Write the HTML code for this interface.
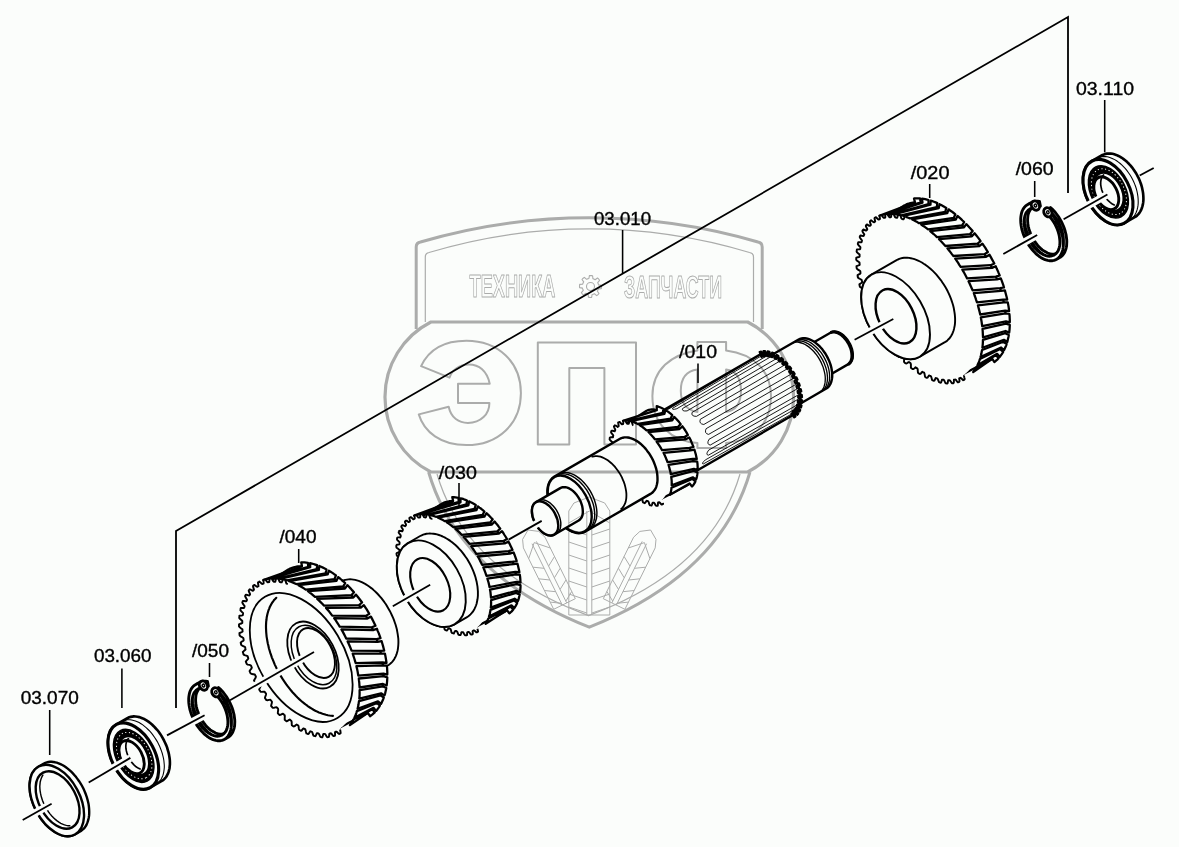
<!DOCTYPE html><html><head><meta charset="utf-8"><style>html,body{margin:0;padding:0;background:#fbfdfb;overflow:hidden;width:1179px;height:847px;}svg{display:block;}text{font-family:"Liberation Sans",sans-serif;}</style></head><body><svg width="1179" height="847" viewBox="0 0 1179 847">
<rect width="1179" height="847" fill="#fbfdfb"/>
<line x1="1139.7" y1="175.5" x2="1153.7" y2="168.0" stroke="#fbfdfb" stroke-width="7.5"/>
<line x1="1139.7" y1="175.5" x2="1153.7" y2="168.0" stroke="#000" stroke-width="1.80" stroke-linecap="butt"/>
<polygon points="1134.3,217.4 1135.7,216.6 1137.0,215.6 1138.2,214.4 1139.3,213.1 1140.2,211.6 1141.1,210.0 1141.8,208.3 1142.4,206.4 1142.9,204.4 1143.2,202.4 1143.4,200.2 1143.4,197.9 1143.3,195.6 1143.1,193.3 1142.7,190.9 1142.2,188.4 1141.6,186.0 1140.8,183.5 1139.9,181.1 1138.9,178.7 1137.7,176.3 1136.5,174.0 1135.1,171.8 1133.7,169.7 1132.2,167.6 1130.6,165.6 1128.9,163.8 1127.2,162.1 1125.4,160.5 1123.6,159.1 1121.8,157.8 1119.9,156.6 1118.0,155.7 1116.2,154.9 1114.3,154.3 1112.5,153.8 1110.7,153.6 1108.9,153.5 1107.2,153.6 1105.6,153.9 1104.0,154.4 1102.5,155.0 1092.1,161.0 1090.7,161.8 1089.4,162.8 1088.2,164.0 1087.1,165.3 1086.1,166.8 1085.3,168.4 1084.6,170.1 1084.0,172.0 1083.5,174.0 1083.2,176.0 1083.0,178.2 1083.0,180.5 1083.1,182.8 1083.3,185.1 1083.7,187.5 1084.2,190.0 1084.8,192.4 1085.6,194.9 1086.5,197.3 1087.5,199.7 1088.7,202.1 1089.9,204.4 1091.2,206.6 1092.7,208.7 1094.2,210.8 1095.8,212.8 1097.5,214.6 1099.2,216.3 1101.0,217.9 1102.8,219.3 1104.6,220.6 1106.5,221.8 1108.4,222.7 1110.2,223.5 1112.1,224.1 1113.9,224.6 1115.7,224.8 1117.5,224.9 1119.2,224.8 1120.8,224.5 1122.4,224.0 1123.9,223.4" fill="#fbfdfb" stroke="#000" stroke-width="2.64" stroke-linejoin="round" />
<polyline points="1131.8,218.6 1133.0,217.4 1134.1,216.1 1135.1,214.6 1135.9,213.0 1136.6,211.3 1137.2,209.4 1137.7,207.4 1138.0,205.4 1138.2,203.2 1138.2,200.9 1138.1,198.6 1137.9,196.3 1137.5,193.9 1137.0,191.4 1136.4,189.0 1135.6,186.5 1134.7,184.1 1133.7,181.7 1132.5,179.3 1131.3,177.0 1129.9,174.8 1128.5,172.7 1127.0,170.6 1125.4,168.6 1123.7,166.8 1122.0,165.1 1120.2,163.5 1118.4,162.1 1116.6,160.8 1114.7,159.6 1112.8,158.7 1111.0,157.9 1109.1,157.3 1107.3,156.8 1105.5,156.6 1103.7,156.5 1102.0,156.6 1100.4,156.9" fill="none" stroke="#000" stroke-width="1.08" stroke-linecap="round" />
<ellipse cx="1108.0" cy="192.2" rx="35.0" ry="21.7" transform="rotate(63.0 1108.0 192.2)" fill="#fbfdfb" stroke="#000" stroke-width="3.12" />
<ellipse cx="1108.4" cy="191.9" rx="28.0" ry="17.4" transform="rotate(63.0 1108.4 191.9)" fill="#000" stroke="#000" stroke-width="1.44" />
<ellipse cx="1108.9" cy="191.7" rx="24.5" ry="15.2" transform="rotate(63.0 1108.9 191.7)" fill="none" stroke="#fbfdfb" stroke-width="0.96" stroke-dasharray="1.2 2.5"/>
<ellipse cx="1108.9" cy="191.7" rx="20.3" ry="12.6" transform="rotate(63.0 1108.9 191.7)" fill="#fbfdfb" stroke="#000" stroke-width="1.92" />
<ellipse cx="1106.3" cy="193.2" rx="17.5" ry="10.8" transform="rotate(63.0 1106.3 193.2)" fill="#fbfdfb" stroke="#000" stroke-width="2.88" />
<polyline points="1103.5,174.9 1102.4,176.3 1101.5,178.0 1101.0,180.0 1100.7,182.2 1100.7,184.6 1101.1,187.1 1101.7,189.7 1102.6,192.2 1103.8,194.7 1105.2,197.0 1106.8,199.1 1108.5,201.0 1110.4,202.6 1112.3,203.9 1114.3,204.9" fill="none" stroke="#000" stroke-width="1.68" stroke-linecap="round" />
<line x1="1063.6" y1="219.3" x2="1107.4" y2="194.5" stroke="#fbfdfb" stroke-width="7.5"/>
<line x1="1063.6" y1="219.3" x2="1107.4" y2="194.5" stroke="#000" stroke-width="1.80" stroke-linecap="butt"/>
<polygon points="1039.5,201.5 1037.8,201.3 1036.2,201.2 1034.7,201.3 1033.2,201.7 1031.8,202.2 1030.5,202.9 1029.3,203.8 1028.2,204.9 1027.2,206.1 1026.4,207.5 1025.7,209.0 1025.1,210.7 1024.6,212.6 1024.3,214.5 1024.2,216.6 1024.1,218.7 1024.3,220.9 1024.5,223.2 1025.0,225.5 1025.5,227.9 1026.2,230.2 1027.0,232.6 1027.9,234.9 1029.0,237.3 1030.2,239.5 1031.4,241.7 1032.8,243.9 1034.3,245.9 1035.8,247.8 1037.4,249.6 1039.0,251.3 1040.7,252.8 1042.4,254.2 1044.2,255.4 1045.9,256.4 1047.7,257.3 1049.4,257.9 1051.1,258.4 1052.8,258.7 1054.4,258.8 1056.0,258.7 1057.5,258.4 1058.9,257.9 1060.2,257.3 1061.4,256.4 1062.5,255.4 1063.5,254.1 1064.4,252.8 1065.1,251.2 1065.7,249.6 1066.2,247.8 1066.6,245.9 1066.7,243.8 1066.8,241.7 1066.7,239.5 1066.4,237.2 1066.1,234.9 1065.5,232.6 1064.9,230.2 1064.1,227.8 1063.2,225.5 1062.1,223.2 1061.0,220.9 1059.7,218.7 1058.4,216.5 1056.9,214.5 1055.4,212.5 1053.8,210.7 1052.2,209.0 1050.5,207.5 1049.7,211.1 1051.4,212.7 1053.0,214.4 1054.6,216.4 1056.1,218.4 1057.5,220.6 1058.7,222.8 1059.8,225.1 1060.8,227.5 1061.7,229.9 1062.3,232.3 1062.8,234.7 1063.2,237.0 1063.3,239.2 1063.3,241.4 1063.1,243.5 1062.8,245.4 1062.2,247.2 1061.5,248.8 1060.7,250.2 1059.7,251.4 1058.5,252.4 1057.2,253.2 1055.8,253.7 1054.3,254.1 1052.8,254.2 1051.1,254.0 1049.4,253.6 1047.6,253.0 1045.9,252.1 1044.1,251.1 1042.3,249.8 1040.6,248.3 1038.9,246.7 1037.3,244.9 1035.8,242.9 1034.3,240.8 1033.0,238.6 1031.8,236.4 1030.7,234.0 1029.8,231.6 1029.0,229.2 1028.4,226.8 1027.9,224.5 1027.7,222.2 1027.6,220.0 1027.7,217.8 1027.9,215.8 1028.3,213.9 1028.9,212.2 1029.7,210.7 1030.6,209.4 1031.7,208.2 1032.9,207.3 1034.2,206.6 1035.6,206.1 1037.2,205.9 1038.8,205.9 1040.4,206.1" fill="#fbfdfb" stroke="#000" stroke-width="2.88" stroke-linejoin="round" />
<polygon points="1036.0,203.5 1034.4,203.3 1032.7,203.2 1031.2,203.3 1029.7,203.7 1028.3,204.2 1027.0,204.9 1025.8,205.8 1024.7,206.9 1023.8,208.1 1022.9,209.5 1022.2,211.0 1021.6,212.7 1021.2,214.6 1020.9,216.5 1020.7,218.6 1020.7,220.7 1020.8,222.9 1021.1,225.2 1021.5,227.5 1022.0,229.9 1022.7,232.2 1023.5,234.6 1024.5,236.9 1025.5,239.3 1026.7,241.5 1028.0,243.7 1029.3,245.9 1030.8,247.9 1032.3,249.8 1033.9,251.6 1035.6,253.3 1037.3,254.8 1039.0,256.2 1040.7,257.4 1042.5,258.4 1044.2,259.3 1046.0,259.9 1047.7,260.4 1049.3,260.7 1051.0,260.8 1052.5,260.7 1054.0,260.4 1055.4,259.9 1056.7,259.3 1058.0,258.4 1059.1,257.4 1060.1,256.1 1060.9,254.8 1061.7,253.2 1062.3,251.6 1062.8,249.8 1063.1,247.9 1063.3,245.8 1063.3,243.7 1063.2,241.5 1063.0,239.2 1062.6,236.9 1062.1,234.6 1061.4,232.2 1060.6,229.8 1059.7,227.5 1058.7,225.2 1057.5,222.9 1056.3,220.7 1054.9,218.5 1053.5,216.5 1052.0,214.5 1050.4,212.7 1048.7,211.0 1047.1,209.5 1046.2,213.1 1047.9,214.7 1049.6,216.4 1051.1,218.4 1052.6,220.4 1054.0,222.6 1055.3,224.8 1056.4,227.1 1057.4,229.5 1058.2,231.9 1058.9,234.3 1059.4,236.7 1059.7,239.0 1059.9,241.2 1059.9,243.4 1059.7,245.5 1059.3,247.4 1058.8,249.2 1058.1,250.8 1057.2,252.2 1056.2,253.4 1055.0,254.4 1053.8,255.2 1052.4,255.7 1050.9,256.1 1049.3,256.2 1047.6,256.0 1045.9,255.6 1044.2,255.0 1042.4,254.1 1040.6,253.1 1038.9,251.8 1037.1,250.3 1035.5,248.7 1033.8,246.9 1032.3,244.9 1030.9,242.8 1029.5,240.6 1028.3,238.4 1027.2,236.0 1026.3,233.6 1025.5,231.2 1024.9,228.8 1024.5,226.5 1024.2,224.2 1024.1,222.0 1024.2,219.8 1024.5,217.8 1024.9,215.9 1025.5,214.2 1026.2,212.7 1027.2,211.4 1028.2,210.2 1029.4,209.3 1030.7,208.6 1032.2,208.1 1033.7,207.9 1035.3,207.9 1037.0,208.1" fill="#fbfdfb" stroke="#000" stroke-width="2.88" stroke-linejoin="round" />
<ellipse cx="1035.4" cy="205.6" rx="4.8" ry="3.8" transform="rotate(60.0 1035.4 205.6)" fill="#fbfdfb" stroke="#000" stroke-width="2.88" />
<ellipse cx="1035.4" cy="205.6" rx="1.5" ry="1.2" transform="rotate(60.0 1035.4 205.6)" fill="none" stroke="#000" stroke-width="1.44" />
<ellipse cx="1047.8" cy="212.3" rx="4.8" ry="3.8" transform="rotate(60.0 1047.8 212.3)" fill="#fbfdfb" stroke="#000" stroke-width="2.88" />
<ellipse cx="1047.8" cy="212.3" rx="1.5" ry="1.2" transform="rotate(60.0 1047.8 212.3)" fill="none" stroke="#000" stroke-width="1.44" />
<line x1="1003.3" y1="254.0" x2="1037.2" y2="235.0" stroke="#fbfdfb" stroke-width="7.5"/>
<line x1="1003.3" y1="254.0" x2="1037.2" y2="235.0" stroke="#000" stroke-width="1.80" stroke-linecap="butt"/>
<polygon points="988.9,360.8 990.1,360.1 991.3,359.4 992.4,358.6 993.4,357.7 994.4,356.8 995.4,355.8 996.4,354.8 997.3,353.6 998.1,352.5 999.0,351.3 999.7,350.0 1000.5,348.6 1001.2,347.3 1001.8,345.8 1002.4,344.3 1003.0,342.8 1003.5,341.2 1003.9,339.6 1004.4,337.9 1004.7,336.2 1005.0,334.4 1005.3,332.6 1005.5,330.7 1005.7,328.9 1005.9,326.9 1005.9,325.0 1006.0,323.0 1005.9,320.9 1005.9,318.9 1005.8,316.8 1005.6,314.7 1005.4,312.5 1005.1,310.4 1004.8,308.2 1004.5,306.0 1004.1,303.8 1003.6,301.5 1003.1,299.3 1002.6,297.0 1002.0,294.7 1001.4,292.4 1000.7,290.1 1000.0,287.8 999.2,285.5 998.4,283.2 997.5,280.9 996.7,278.6 995.7,276.3 994.7,274.0 993.7,271.7 992.7,269.4 991.6,267.1 990.5,264.9 989.3,262.6 988.1,260.4 986.9,258.2 985.6,256.0 984.3,253.8 983.0,251.7 981.6,249.6 980.3,247.5 978.8,245.4 977.4,243.4 975.9,241.4 974.4,239.4 972.9,237.5 971.4,235.6 969.9,233.8 968.3,232.0 966.7,230.2 965.1,228.5 963.5,226.8 961.8,225.2 960.2,223.6 958.5,222.0 956.9,220.6 955.2,219.1 953.5,217.7 951.8,216.4 950.1,215.1 948.4,213.9 946.7,212.7 945.0,211.6 943.3,210.6 941.6,209.6 939.9,208.7 938.2,207.8 936.6,207.0 934.9,206.2 933.2,205.6 931.6,204.9 929.9,204.4 928.3,203.9 926.7,203.5 925.1,203.1 923.5,202.8 922.0,202.6 920.4,202.4 918.9,202.3 917.4,202.3 915.9,202.3 914.5,202.4 913.1,202.6 911.7,202.8 910.3,203.1 909.0,203.5 907.7,203.9 906.4,204.4 905.2,205.0 903.9,205.6 877.8,222.4 876.7,223.1 875.5,223.8 874.5,224.6 873.4,225.5 872.4,226.4 871.4,227.4 870.5,228.4 869.6,229.5 868.8,230.7 868.0,231.9 867.2,233.2 866.5,234.5 865.9,235.9 865.3,237.4 864.7,238.9 864.2,240.4 863.7,242.0 863.2,243.7 862.9,245.3 862.5,247.1 862.2,248.9 862.0,250.7 861.8,252.5 861.7,254.4 861.6,256.4 861.5,258.4 861.5,260.4 861.6,262.4 861.7,264.5 861.8,266.6 862.0,268.7 862.3,270.8 862.6,273.0 862.9,275.2 863.3,277.4 863.8,279.7 864.3,281.9 864.8,284.2 865.4,286.5 866.0,288.8 866.7,291.1 867.4,293.4 868.2,295.7 869.0,298.0 869.8,300.3 870.7,302.6 871.6,304.9 872.6,307.2 873.6,309.5 874.7,311.8 875.8,314.1 876.9,316.3 878.1,318.6 879.3,320.8 880.5,323.0 881.7,325.2 883.0,327.4 884.4,329.5 885.7,331.6 887.1,333.7 888.5,335.8 890.0,337.8 891.4,339.8 892.9,341.7 894.4,343.7 896.0,345.6 897.5,347.4 899.1,349.2 900.7,351.0 902.3,352.7 903.9,354.4 905.5,356.0 907.2,357.6 908.8,359.1 910.5,360.6 912.2,362.0 913.9,363.4 915.5,364.7 917.2,365.9 918.9,367.1 920.6,368.3 922.3,369.4 924.0,370.4 925.7,371.4 927.3,372.3 929.0,373.1 930.7,373.9 932.3,374.6 934.0,375.2 935.6,375.8 937.2,376.4 938.8,376.8 940.4,377.2 942.0,377.5 943.5,377.8 945.1,378.0 946.6,378.1 948.1,378.1 949.5,378.1 950.9,378.0 952.4,377.9 953.7,377.7 955.1,377.4 956.4,377.1 957.7,376.6 959.0,376.2 960.2,375.6 961.4,375.0" fill="#fbfdfb" stroke="#000" stroke-width="2.28" stroke-linejoin="round" />
<polygon points="884.9,214.3 883.5,214.6 882.1,214.9 880.7,215.3 879.3,215.7 915.0,202.4 914.0,198.5 915.4,198.4 917.0,198.4 918.5,198.4 920.0,198.5 920.7,202.4" fill="#fbfdfb" stroke="#000" stroke-width="2.28" stroke-linejoin="round" />
<polygon points="892.8,214.0 891.2,213.9 889.7,213.9 888.2,213.9 886.7,214.1 922.5,202.7 922.0,198.7 923.6,198.9 925.2,199.2 926.9,199.6 928.5,200.0 928.5,204.0" fill="#fbfdfb" stroke="#000" stroke-width="2.28" stroke-linejoin="round" />
<polygon points="901.2,215.4 899.6,215.0 898.0,214.6 896.4,214.3 894.8,214.1 930.5,204.6 930.6,200.6 932.3,201.1 933.9,201.7 935.6,202.4 937.3,203.1 936.8,207.1" fill="#fbfdfb" stroke="#000" stroke-width="2.28" stroke-linejoin="round" />
<polygon points="910.0,218.4 908.3,217.7 906.7,217.1 905.0,216.5 903.3,215.9 938.8,208.1 939.5,204.2 941.2,205.0 942.9,205.9 944.6,206.9 946.3,207.9 945.3,211.8" fill="#fbfdfb" stroke="#000" stroke-width="2.28" stroke-linejoin="round" />
<polygon points="919.0,223.2 917.3,222.1 915.6,221.2 913.9,220.3 912.2,219.4 947.3,213.1 948.5,209.3 950.2,210.5 952.0,211.7 953.7,213.0 955.4,214.3 953.7,217.9" fill="#fbfdfb" stroke="#000" stroke-width="2.28" stroke-linejoin="round" />
<polygon points="928.1,229.4 926.4,228.1 924.7,226.9 922.9,225.7 921.2,224.5 955.8,219.6 957.5,216.0 959.2,217.4 960.9,218.9 962.5,220.5 964.2,222.0 962.1,225.4" fill="#fbfdfb" stroke="#000" stroke-width="2.28" stroke-linejoin="round" />
<polygon points="936.9,237.1 935.3,235.5 933.6,234.0 931.9,232.6 930.2,231.1 964.0,227.4 966.3,224.1 967.9,225.7 969.5,227.5 971.1,229.2 972.7,231.0 970.1,234.1" fill="#fbfdfb" stroke="#000" stroke-width="2.28" stroke-linejoin="round" />
<polygon points="945.4,246.0 943.8,244.2 942.2,242.5 940.6,240.8 939.0,239.1 971.9,236.3 974.6,233.3 976.2,235.2 977.7,237.1 979.2,239.1 980.6,241.1 977.6,243.7" fill="#fbfdfb" stroke="#000" stroke-width="2.28" stroke-linejoin="round" />
<polygon points="953.4,256.0 951.9,254.1 950.4,252.1 948.9,250.2 947.4,248.3 979.3,246.1 982.4,243.6 983.8,245.7 985.2,247.7 986.5,249.8 987.9,252.0 984.5,254.2" fill="#fbfdfb" stroke="#000" stroke-width="2.28" stroke-linejoin="round" />
<polygon points="960.7,266.9 959.3,264.8 958.0,262.7 956.6,260.6 955.2,258.6 986.1,256.8 989.5,254.7 990.7,256.9 991.9,259.1 993.1,261.3 994.3,263.5 990.6,265.2" fill="#fbfdfb" stroke="#000" stroke-width="2.28" stroke-linejoin="round" />
<polygon points="967.1,278.4 966.0,276.2 964.8,274.0 963.6,271.8 962.3,269.6 992.0,267.9 995.7,266.3 996.7,268.6 997.8,270.9 998.7,273.2 999.7,275.4 995.9,276.6" fill="#fbfdfb" stroke="#000" stroke-width="2.28" stroke-linejoin="round" />
<polygon points="972.6,290.3 971.6,288.0 970.6,285.8 969.6,283.5 968.5,281.2 997.0,279.4 1000.8,278.3 1001.7,280.6 1002.5,282.9 1003.3,285.2 1004.0,287.5 1000.1,288.2" fill="#fbfdfb" stroke="#000" stroke-width="2.28" stroke-linejoin="round" />
<polygon points="977.0,302.4 976.2,300.1 975.5,297.8 974.6,295.5 973.8,293.2 1000.9,290.9 1004.9,290.4 1005.5,292.7 1006.1,295.0 1006.7,297.3 1007.2,299.6 1003.2,299.6" fill="#fbfdfb" stroke="#000" stroke-width="2.28" stroke-linejoin="round" />
<polygon points="980.2,314.5 979.7,312.2 979.1,309.9 978.5,307.6 977.9,305.3 1003.8,302.3 1007.8,302.4 1008.2,304.6 1008.6,306.8 1008.9,309.0 1009.1,311.2 1005.2,310.7" fill="#fbfdfb" stroke="#000" stroke-width="2.28" stroke-linejoin="round" />
<polygon points="982.2,326.2 981.9,324.0 981.6,321.8 981.2,319.5 980.8,317.3 1005.5,313.3 1009.4,314.0 1009.6,316.1 1009.7,318.2 1009.8,320.3 1009.8,322.3 1006.0,321.3" fill="#fbfdfb" stroke="#000" stroke-width="2.28" stroke-linejoin="round" />
<polygon points="983.0,337.3 982.9,335.2 982.8,333.1 982.7,331.0 982.5,328.9 1006.0,323.7 1009.8,324.9 1009.7,326.9 1009.6,328.8 1009.4,330.8 1009.2,332.6 1005.5,331.0" fill="#fbfdfb" stroke="#000" stroke-width="2.28" stroke-linejoin="round" />
<polygon points="982.4,347.7 982.6,345.8 982.8,343.8 982.9,341.9 982.9,339.9 1005.2,333.2 1008.8,335.0 1008.5,336.8 1008.1,338.5 1007.7,340.3 1007.3,342.0 1003.9,339.8" fill="#fbfdfb" stroke="#000" stroke-width="2.28" stroke-linejoin="round" />
<polygon points="980.5,357.0 981.0,355.3 981.4,353.6 981.7,351.8 982.1,350.0 1003.3,341.8 1006.6,344.0 1006.1,345.6 1005.5,347.1 1004.8,348.6 1004.1,350.1 1001.1,347.5" fill="#fbfdfb" stroke="#000" stroke-width="2.28" stroke-linejoin="round" />
<polygon points="977.5,365.2 978.1,363.7 978.8,362.2 979.4,360.7 979.9,359.1 1000.2,349.1 1003.2,351.8 1002.4,353.1 1001.6,354.4 1000.7,355.6 999.8,356.8 997.1,353.8" fill="#fbfdfb" stroke="#000" stroke-width="2.28" stroke-linejoin="round" />
<polygon points="973.2,372.0 974.1,370.8 974.9,369.6 975.8,368.3 976.5,367.0 996.0,355.1 998.6,358.2 997.6,359.3 996.6,360.2 995.5,361.2 994.4,362.1 992.2,358.7" fill="#fbfdfb" stroke="#000" stroke-width="2.28" stroke-linejoin="round" />
<polygon points="905.3,216.6 904.7,216.9 904.1,218.2 903.5,219.4 903.0,219.3 902.5,219.1 901.9,218.9 901.4,218.3 900.8,216.7 900.2,215.2 899.6,215.0 899.1,214.8 898.5,214.7 898.0,215.1 897.6,216.5 897.2,217.8 896.6,217.7 896.1,217.6 895.6,217.6 895.0,217.0 894.3,215.5 893.6,214.1 893.0,214.0 892.5,213.9 892.0,213.9 891.5,214.4 891.3,215.8 891.0,217.1 890.6,217.2 890.1,217.2 889.6,217.2 889.0,216.7 888.1,215.4 887.3,214.1 886.8,214.1 886.3,214.1 885.8,214.2 885.4,214.7 885.3,216.2 885.3,217.6 884.9,217.7 884.4,217.8 883.9,217.9 883.3,217.5 882.4,216.3 881.4,215.1 880.9,215.2 880.4,215.3 880.0,215.5 879.7,216.1 879.8,217.6 880.0,219.0 879.6,219.2 879.2,219.4 878.8,219.6 878.1,219.3 877.0,218.2 876.0,217.2 875.5,217.4 875.1,217.6 874.7,217.8 874.5,218.5 874.9,220.0 875.2,221.5 874.8,221.8 874.4,222.0 874.1,222.3 873.4,222.1 872.3,221.2 871.1,220.3 870.7,220.6 870.3,220.9 870.0,221.2 869.9,222.0 870.4,223.4 870.9,224.9 870.6,225.2 870.3,225.6 870.0,225.9 869.3,225.9 868.1,225.1 866.9,224.4 866.5,224.8 866.2,225.2 865.9,225.6 865.9,226.4 866.6,227.8 867.3,229.2 867.0,229.7 866.8,230.1 866.5,230.5 865.9,230.5 864.6,230.0 863.3,229.5 863.0,229.9 862.7,230.4 862.4,230.8 862.6,231.7 863.4,233.1 864.3,234.4 864.1,234.9 863.9,235.4 863.7,235.9 863.1,236.1 861.7,235.7 860.4,235.4 860.1,235.9 859.9,236.4 859.7,237.0 860.0,237.8 861.0,239.2 862.0,240.5 861.9,241.0 861.7,241.6 861.6,242.1 861.0,242.4 859.6,242.2 858.3,242.1 858.1,242.7 857.9,243.3 857.8,243.9 858.1,244.7 859.3,246.0 860.4,247.2 860.4,247.8 860.3,248.4 860.2,249.0 859.6,249.4 858.2,249.4 856.9,249.5 856.8,250.1 856.7,250.8 856.6,251.5 857.0,252.3 858.3,253.5 859.6,254.6 859.6,255.3 859.6,255.9 859.6,256.6 859.0,257.1 857.7,257.3 856.3,257.6 856.3,258.2 856.2,258.9 856.2,259.6 856.7,260.5 858.2,261.6 859.5,262.6 859.6,263.3 859.6,264.0 859.7,264.7 859.2,265.2 857.8,265.7 856.5,266.1 856.5,266.8 856.6,267.6 856.7,268.3 857.2,269.1 858.8,270.1 860.2,271.0 860.4,271.7 860.4,272.4 860.5,273.2 860.1,273.8 858.8,274.4 857.6,275.1 857.6,275.8 857.7,276.6 857.9,277.4 858.5,278.2 860.1,279.0 861.6,279.8 861.8,280.5 862.0,281.2 862.2,282.0 861.8,282.7 860.5,283.5 859.4,284.3 859.5,285.1 859.7,285.9 859.9,286.7 860.6,287.4 862.2,288.1 863.8,288.8 864.1,289.5 864.3,290.3 864.5,291.0 864.2,291.8 863.0,292.8 861.9,293.8 862.1,294.6 862.3,295.4 862.6,296.2 863.4,296.9 865.0,297.4 866.7,297.9 867.0,298.6 867.3,299.4 867.5,300.2 867.3,301.0 866.2,302.2 865.2,303.3 865.4,304.1 865.7,304.9 866.0,305.7 866.9,306.3 868.6,306.7 870.2,307.0 870.6,307.8 870.9,308.5 871.2,309.3 871.1,310.2 870.1,311.5 869.1,312.7 869.4,313.5 869.8,314.3 870.2,315.1 871.0,315.7 872.7,315.9 874.3,316.1 874.8,316.8 875.1,317.5 875.5,318.3 875.4,319.2 874.5,320.6 873.7,322.0 874.1,322.8 874.5,323.6 874.9,324.3 875.8,324.8 877.5,324.8 879.1,324.9 879.5,325.6 879.9,326.3 880.4,327.0 880.4,328.0 879.6,329.5 878.9,331.0 879.3,331.8 879.8,332.5 880.2,333.2 881.1,333.6 882.7,333.5 884.3,333.3 884.8,334.0 885.3,334.7 885.7,335.4 885.8,336.4 885.1,338.0 884.6,339.6 885.0,340.3 885.5,341.0 886.0,341.7 886.9,342.0 888.5,341.7 890.0,341.4 890.5,342.0 891.0,342.6 891.5,343.3 891.6,344.3 891.1,346.0 890.7,347.6 891.2,348.3 891.7,349.0 892.3,349.6 893.1,349.8 894.6,349.4 896.0,348.9 896.6,349.5 897.1,350.1 897.6,350.6 897.8,351.6 897.5,353.4 897.2,355.1 897.7,355.7 898.3,356.3 898.8,356.9 899.7,357.0 901.0,356.4 902.4,355.8 902.9,356.3 903.5,356.8 904.0,357.3 904.3,358.3 904.1,360.1 904.0,361.8 904.5,362.4 905.1,362.9 905.7,363.4 906.5,363.5 907.7,362.7 908.9,362.0 909.5,362.4 910.0,362.8 910.6,363.3 910.9,364.2 910.9,366.0 910.9,367.7 911.5,368.3 912.1,368.7 912.7,369.1 913.4,369.1 914.6,368.2 915.6,367.3 916.2,367.7 916.8,368.1 917.3,368.5 917.7,369.3 917.8,371.1 918.0,372.8 918.6,373.3 919.2,373.6 919.8,374.0 920.5,373.9 921.4,372.8 922.4,371.8 922.9,372.1 923.5,372.4 924.1,372.7 924.5,373.6 924.8,375.3 925.1,376.9 925.7,377.3 926.3,377.6 926.9,377.9 927.5,377.7 928.3,376.5 929.1,375.4 929.6,375.6 930.2,375.8 930.7,376.1 931.2,376.8 931.7,378.5 932.1,380.1 932.7,380.4 933.3,380.6 933.9,380.8 934.5,380.5 935.1,379.2 935.7,378.0 936.2,378.1 936.7,378.3 937.3,378.5 937.8,379.1 938.4,380.7 939.0,382.2 939.6,382.4 940.1,382.6 940.7,382.7 941.2,382.3 941.6,380.9 942.0,379.6 942.6,379.7 943.1,379.8 943.6,379.8 944.2,380.4 944.9,381.9 945.6,383.3 946.2,383.4 946.7,383.5 947.2,383.5 947.7,383.0 947.9,381.6 948.2,380.3 948.6,380.2 949.1,380.2 949.6,380.2 950.2,380.7 951.1,382.0 951.9,383.3 952.4,383.3 952.9,383.3 953.4,383.2 953.8,382.7 953.9,381.2 953.9,379.8 954.3,379.7 954.8,379.6 955.3,379.5 955.9,379.9 956.8,381.1 957.8,382.3 958.3,382.2 958.8,382.1 959.2,381.9 959.5,381.3 959.4,379.8 959.2,378.4 959.6,378.2 960.0,378.0 960.4,377.8 961.1,378.1 962.2,379.2 963.2,380.2 963.7,380.0 964.1,379.8 964.5,379.6 964.7,378.9 964.3,377.4 964.0,375.9 964.4,375.6 964.2,374.5 964.6,374.3 964.9,374.0 965.3,373.7 965.6,373.5 966.0,373.2 966.3,372.9 966.7,372.6 967.0,372.3 967.3,372.0 967.6,371.7 968.0,371.3 968.3,371.0 968.6,370.7 968.9,370.3 969.2,370.0 969.5,369.6 969.8,369.3 970.1,368.9 970.4,368.6 970.6,368.2 970.9,367.8 971.2,367.4 971.5,367.0 971.7,366.6 972.0,366.2 972.2,365.8 972.5,365.4 972.7,364.9 973.0,364.5 973.2,364.1 973.4,363.6 973.7,363.2 973.9,362.7 974.1,362.3 974.3,361.8 974.5,361.3 974.7,360.9 974.9,360.4 975.1,359.9 975.3,359.4 975.5,358.9 975.7,358.4 975.8,357.9 976.0,357.4 976.2,356.9 976.3,356.3 976.5,355.8 976.6,355.3 976.8,354.8 976.9,354.2 977.0,353.7 977.2,353.1 977.3,352.6 977.4,352.0 977.5,351.4 977.6,350.9 977.7,350.3 977.8,349.7 977.9,349.1 978.0,348.5 978.1,347.9 978.2,347.3 978.2,346.7 978.3,346.1 978.4,345.5 978.4,344.9 978.5,344.3 978.5,343.7 978.6,343.0 978.6,342.4 978.6,341.8 978.7,341.1 978.7,340.5 978.7,339.8 978.7,339.2 978.7,338.5 978.7,337.9 978.7,337.2 978.7,336.6 978.7,335.9 978.7,335.2 978.6,334.6 978.6,333.9 978.6,333.2 978.5,332.5 978.5,331.8 978.4,331.1 978.4,330.5 978.3,329.8 978.2,329.1 978.2,328.4 978.1,327.7 978.0,327.0 977.9,326.3 977.8,325.6 977.7,324.8 977.6,324.1 977.5,323.4 977.4,322.7 977.3,322.0 977.2,321.3 977.0,320.5 976.9,319.8 976.8,319.1 976.6,318.4 976.5,317.6 976.3,316.9 976.2,316.2 976.0,315.4 975.8,314.7 975.7,313.9 975.5,313.2 975.3,312.5 975.1,311.7 974.9,311.0 974.7,310.2 974.5,309.5 974.3,308.7 974.1,308.0 973.9,307.2 973.7,306.5 973.5,305.7 973.2,305.0 973.0,304.2 972.7,303.5 972.5,302.7 972.3,302.0 972.0,301.2 971.7,300.5 971.5,299.7 971.2,299.0 970.9,298.2 970.7,297.5 970.4,296.7 970.1,296.0 969.8,295.2 969.5,294.5 969.2,293.7 968.9,293.0 968.6,292.2 968.3,291.5 968.0,290.7 967.7,290.0 967.3,289.2 967.0,288.5 966.7,287.7 966.3,287.0 966.0,286.2 965.7,285.5 965.3,284.8 965.0,284.0 964.6,283.3 964.2,282.5 963.9,281.8 963.5,281.1 963.1,280.3 962.8,279.6 962.4,278.9 962.0,278.1 961.6,277.4 961.2,276.7 960.8,276.0 960.4,275.2 960.0,274.5 959.6,273.8 959.2,273.1 958.8,272.4 958.4,271.7 958.0,271.0 957.5,270.3 957.1,269.6 956.7,268.9 956.3,268.2 955.8,267.5 955.4,266.8 954.9,266.1 954.5,265.4 954.1,264.7 953.6,264.0 953.1,263.3 952.7,262.7 952.2,262.0 951.8,261.3 951.3,260.7 950.8,260.0 950.4,259.4 949.9,258.7 949.4,258.0 948.9,257.4 948.5,256.8 948.0,256.1 947.5,255.5 947.0,254.8 946.5,254.2 946.0,253.6 945.5,253.0 945.0,252.3 944.5,251.7 944.0,251.1 943.5,250.5 943.0,249.9 942.5,249.3 942.0,248.7 941.5,248.1 941.0,247.6 940.4,247.0 939.9,246.4 939.4,245.8 938.9,245.3 938.4,244.7 937.8,244.2 937.3,243.6 936.8,243.1 936.3,242.5 935.7,242.0 935.2,241.4 934.7,240.9 934.1,240.4 933.6,239.9 933.0,239.4 932.5,238.9 932.0,238.4 931.4,237.9 930.9,237.4 930.3,236.9 929.8,236.4 929.3,235.9 928.7,235.5 928.2,235.0 927.6,234.6 927.1,234.1 926.5,233.7 926.0,233.2 925.4,232.8 924.9,232.3 924.3,231.9 923.8,231.5 923.2,231.1 922.7,230.7 922.1,230.3 921.6,229.9 921.0,229.5 920.5,229.1 919.9,228.8 919.3,228.4 918.8,228.0 918.2,227.7 917.7,227.3 917.1,227.0 916.6,226.6 916.0,226.3 915.5,226.0 914.9,225.7 914.4,225.3 913.8,225.0 913.3,224.7 912.7,224.4 912.2,224.1 911.6,223.9 911.1,223.6 910.5,223.3 910.0,223.1 909.4,222.8 908.9,222.6 908.4,222.3 907.8,222.1 907.3,221.9 906.7,221.6 906.2,221.4 905.7,221.2 905.1,221.0" fill="#fbfdfb" stroke="none" stroke-width="0.00" stroke-linejoin="round" />
<polyline points="905.3,216.6 904.7,216.9 904.1,218.2 903.5,219.4 903.0,219.3 902.5,219.1 901.9,218.9 901.4,218.3 900.8,216.7 900.2,215.2 899.6,215.0 899.1,214.8 898.5,214.7 898.0,215.1 897.6,216.5 897.2,217.8 896.6,217.7 896.1,217.6 895.6,217.6 895.0,217.0 894.3,215.5 893.6,214.1 893.0,214.0 892.5,213.9 892.0,213.9 891.5,214.4 891.3,215.8 891.0,217.1 890.6,217.2 890.1,217.2 889.6,217.2 889.0,216.7 888.1,215.4 887.3,214.1 886.8,214.1 886.3,214.1 885.8,214.2 885.4,214.7 885.3,216.2 885.3,217.6 884.9,217.7 884.4,217.8 883.9,217.9 883.3,217.5 882.4,216.3 881.4,215.1 880.9,215.2 880.4,215.3 880.0,215.5 879.7,216.1 879.8,217.6 880.0,219.0 879.6,219.2 879.2,219.4 878.8,219.6 878.1,219.3 877.0,218.2 876.0,217.2 875.5,217.4 875.1,217.6 874.7,217.8 874.5,218.5 874.9,220.0 875.2,221.5 874.8,221.8 874.4,222.0 874.1,222.3 873.4,222.1 872.3,221.2 871.1,220.3 870.7,220.6 870.3,220.9 870.0,221.2 869.9,222.0 870.4,223.4 870.9,224.9 870.6,225.2 870.3,225.6 870.0,225.9 869.3,225.9 868.1,225.1 866.9,224.4 866.5,224.8 866.2,225.2 865.9,225.6 865.9,226.4 866.6,227.8 867.3,229.2 867.0,229.7 866.8,230.1 866.5,230.5 865.9,230.5 864.6,230.0 863.3,229.5 863.0,229.9 862.7,230.4 862.4,230.8 862.6,231.7 863.4,233.1 864.3,234.4 864.1,234.9 863.9,235.4 863.7,235.9 863.1,236.1 861.7,235.7 860.4,235.4 860.1,235.9 859.9,236.4 859.7,237.0 860.0,237.8 861.0,239.2 862.0,240.5 861.9,241.0 861.7,241.6 861.6,242.1 861.0,242.4 859.6,242.2 858.3,242.1 858.1,242.7 857.9,243.3 857.8,243.9 858.1,244.7 859.3,246.0 860.4,247.2 860.4,247.8 860.3,248.4 860.2,249.0 859.6,249.4 858.2,249.4 856.9,249.5 856.8,250.1 856.7,250.8 856.6,251.5 857.0,252.3 858.3,253.5 859.6,254.6 859.6,255.3 859.6,255.9 859.6,256.6 859.0,257.1 857.7,257.3 856.3,257.6 856.3,258.2 856.2,258.9 856.2,259.6 856.7,260.5 858.2,261.6 859.5,262.6 859.6,263.3 859.6,264.0 859.7,264.7 859.2,265.2 857.8,265.7 856.5,266.1 856.5,266.8 856.6,267.6 856.7,268.3 857.2,269.1 858.8,270.1 860.2,271.0 860.4,271.7 860.4,272.4 860.5,273.2 860.1,273.8 858.8,274.4 857.6,275.1 857.6,275.8 857.7,276.6 857.9,277.4 858.5,278.2 860.1,279.0 861.6,279.8 861.8,280.5 862.0,281.2 862.2,282.0 861.8,282.7 860.5,283.5 859.4,284.3 859.5,285.1 859.7,285.9 859.9,286.7 860.6,287.4 862.2,288.1 863.8,288.8 864.1,289.5 864.3,290.3 864.5,291.0 864.2,291.8 863.0,292.8 861.9,293.8 862.1,294.6 862.3,295.4 862.6,296.2 863.4,296.9 865.0,297.4 866.7,297.9 867.0,298.6 867.3,299.4 867.5,300.2 867.3,301.0 866.2,302.2 865.2,303.3 865.4,304.1 865.7,304.9 866.0,305.7 866.9,306.3 868.6,306.7 870.2,307.0 870.6,307.8 870.9,308.5 871.2,309.3 871.1,310.2 870.1,311.5 869.1,312.7 869.4,313.5 869.8,314.3 870.2,315.1 871.0,315.7 872.7,315.9 874.3,316.1 874.8,316.8 875.1,317.5 875.5,318.3 875.4,319.2 874.5,320.6 873.7,322.0 874.1,322.8 874.5,323.6 874.9,324.3 875.8,324.8 877.5,324.8 879.1,324.9 879.5,325.6 879.9,326.3 880.4,327.0 880.4,328.0 879.6,329.5 878.9,331.0 879.3,331.8 879.8,332.5 880.2,333.2 881.1,333.6 882.7,333.5 884.3,333.3 884.8,334.0 885.3,334.7 885.7,335.4 885.8,336.4 885.1,338.0 884.6,339.6 885.0,340.3 885.5,341.0 886.0,341.7 886.9,342.0 888.5,341.7 890.0,341.4 890.5,342.0 891.0,342.6 891.5,343.3 891.6,344.3 891.1,346.0 890.7,347.6 891.2,348.3 891.7,349.0 892.3,349.6 893.1,349.8 894.6,349.4 896.0,348.9 896.6,349.5 897.1,350.1 897.6,350.6 897.8,351.6 897.5,353.4 897.2,355.1 897.7,355.7 898.3,356.3 898.8,356.9 899.7,357.0 901.0,356.4 902.4,355.8 902.9,356.3 903.5,356.8 904.0,357.3 904.3,358.3 904.1,360.1 904.0,361.8 904.5,362.4 905.1,362.9 905.7,363.4 906.5,363.5 907.7,362.7 908.9,362.0 909.5,362.4 910.0,362.8 910.6,363.3 910.9,364.2 910.9,366.0 910.9,367.7 911.5,368.3 912.1,368.7 912.7,369.1 913.4,369.1 914.6,368.2 915.6,367.3 916.2,367.7 916.8,368.1 917.3,368.5 917.7,369.3 917.8,371.1 918.0,372.8 918.6,373.3 919.2,373.6 919.8,374.0 920.5,373.9 921.4,372.8 922.4,371.8 922.9,372.1 923.5,372.4 924.1,372.7 924.5,373.6 924.8,375.3 925.1,376.9 925.7,377.3 926.3,377.6 926.9,377.9 927.5,377.7 928.3,376.5 929.1,375.4 929.6,375.6 930.2,375.8 930.7,376.1 931.2,376.8 931.7,378.5 932.1,380.1 932.7,380.4 933.3,380.6 933.9,380.8 934.5,380.5 935.1,379.2 935.7,378.0 936.2,378.1 936.7,378.3 937.3,378.5 937.8,379.1 938.4,380.7 939.0,382.2 939.6,382.4 940.1,382.6 940.7,382.7 941.2,382.3 941.6,380.9 942.0,379.6 942.6,379.7 943.1,379.8 943.6,379.8 944.2,380.4 944.9,381.9 945.6,383.3 946.2,383.4 946.7,383.5 947.2,383.5 947.7,383.0 947.9,381.6 948.2,380.3 948.6,380.2 949.1,380.2 949.6,380.2 950.2,380.7 951.1,382.0 951.9,383.3 952.4,383.3 952.9,383.3 953.4,383.2 953.8,382.7 953.9,381.2 953.9,379.8 954.3,379.7 954.8,379.6 955.3,379.5 955.9,379.9 956.8,381.1 957.8,382.3 958.3,382.2 958.8,382.1 959.2,381.9 959.5,381.3 959.4,379.8 959.2,378.4 959.6,378.2 960.0,378.0 960.4,377.8 961.1,378.1 962.2,379.2 963.2,380.2 963.7,380.0 964.1,379.8 964.5,379.6 964.7,378.9 964.3,377.4 964.0,375.9 964.4,375.6" fill="none" stroke="#000" stroke-width="1.92" stroke-linejoin="round"/>
<polygon points="944.9,342.2 946.2,341.4 947.4,340.4 948.5,339.3 949.6,338.2 950.5,336.9 951.4,335.5 952.2,334.0 952.9,332.4 953.5,330.7 954.0,328.9 954.4,327.1 954.8,325.1 955.0,323.1 955.1,321.1 955.1,318.9 955.0,316.8 954.8,314.5 954.5,312.3 954.1,310.0 953.7,307.7 953.1,305.3 952.4,303.0 951.6,300.6 950.8,298.3 949.8,295.9 948.8,293.6 947.7,291.3 946.5,289.0 945.2,286.8 943.8,284.6 942.4,282.4 941.0,280.3 939.4,278.3 937.8,276.3 936.2,274.4 934.5,272.6 932.8,270.9 931.0,269.3 929.2,267.7 927.4,266.3 925.6,264.9 923.7,263.7 921.9,262.5 920.0,261.5 918.1,260.6 916.3,259.8 914.5,259.2 912.6,258.6 910.8,258.2 909.1,257.9 907.3,257.8 905.6,257.7 904.0,257.8 902.4,258.0 900.8,258.4 899.3,258.9 897.9,259.5 896.6,260.2 871.4,274.7 870.2,275.5 868.9,276.5 867.8,277.6 866.7,278.7 865.8,280.0 864.9,281.4 864.1,282.9 863.4,284.5 862.8,286.2 862.3,288.0 861.9,289.8 861.6,291.8 861.3,293.8 861.2,295.8 861.2,298.0 861.3,300.1 861.5,302.4 861.8,304.6 862.2,306.9 862.7,309.2 863.2,311.6 863.9,313.9 864.7,316.3 865.6,318.6 866.5,321.0 867.5,323.3 868.7,325.6 869.9,327.9 871.1,330.1 872.5,332.3 873.9,334.5 875.4,336.6 876.9,338.6 878.5,340.6 880.1,342.5 881.8,344.3 883.5,346.0 885.3,347.6 887.1,349.2 888.9,350.6 890.7,352.0 892.6,353.2 894.4,354.4 896.3,355.4 898.2,356.3 900.0,357.1 901.9,357.7 903.7,358.3 905.5,358.7 907.3,359.0 909.0,359.1 910.7,359.2 912.3,359.1 913.9,358.9 915.5,358.5 917.0,358.0 918.4,357.4 919.8,356.7" fill="#fbfdfb" stroke="#000" stroke-width="1.92" stroke-linejoin="round" />
<ellipse cx="895.6" cy="315.7" rx="47.6" ry="28.4" transform="rotate(59.5 895.6 315.7)" fill="#fbfdfb" stroke="#000" stroke-width="1.92" />
<ellipse cx="896.0" cy="316.3" rx="29.2" ry="17.5" transform="rotate(63.0 896.0 316.3)" fill="none" stroke="#000" stroke-width="2.40" />
<line x1="854.6" y1="339.7" x2="893.3" y2="319.0" stroke="#fbfdfb" stroke-width="7.5"/>
<line x1="854.6" y1="339.7" x2="893.3" y2="319.0" stroke="#000" stroke-width="1.80" stroke-linecap="butt"/>
<polygon points="848.8,363.9 850.1,363.0 851.2,361.7 852.0,360.1 852.6,358.3 852.8,356.2 852.8,353.9 852.5,351.5 852.0,349.1 851.1,346.6 850.0,344.1 848.7,341.8 847.2,339.5 845.5,337.5 843.8,335.7 841.9,334.2 840.0,333.0 838.1,332.1 836.2,331.6 834.4,331.4 832.8,331.7 831.3,332.3 803.5,348.3 802.2,349.3 801.1,350.5 800.3,352.1 799.7,354.0 799.5,356.1 799.5,358.3 799.8,360.7 800.4,363.2 801.2,365.7 802.3,368.1 803.6,370.5 805.1,372.7 806.8,374.8 808.6,376.5 810.4,378.1 812.3,379.3 814.2,380.1 816.1,380.7 817.9,380.8 819.5,380.6 821.0,380.0" fill="#fbfdfb" stroke="#000" stroke-width="2.40" stroke-linejoin="round" />
<polyline points="848.9,363.8 850.0,362.7 850.9,361.2 851.5,359.5 851.9,357.5 852.0,355.4 851.8,353.1 851.4,350.7 850.7,348.2 849.7,345.8 848.5,343.4 847.1,341.2 845.6,339.1 843.9,337.2 842.1,335.5 840.2,334.1 838.3,333.1 836.5,332.4 834.7,332.0 833.0,332.0 831.4,332.3" fill="none" stroke="#000" stroke-width="3.12" stroke-linecap="round" />
<polygon points="825.9,388.8 827.2,388.0 828.4,386.9 829.4,385.7 830.3,384.2 831.0,382.6 831.5,380.9 831.9,379.0 832.2,376.9 832.2,374.8 832.1,372.6 831.8,370.3 831.4,367.9 830.8,365.5 830.0,363.1 829.1,360.8 828.0,358.4 826.8,356.1 825.5,353.8 824.0,351.7 822.5,349.6 820.9,347.7 819.2,345.9 817.4,344.3 815.6,342.8 813.8,341.6 812.0,340.5 810.1,339.6 808.3,338.9 806.5,338.5 804.8,338.2 803.1,338.2 801.5,338.4 800.0,338.8 798.6,339.5 762.5,360.3 761.2,361.2 760.0,362.2 759.0,363.5 758.1,364.9 757.4,366.5 756.9,368.3 756.5,370.2 756.2,372.2 756.2,374.3 756.3,376.6 756.6,378.9 757.0,381.2 757.6,383.6 758.4,386.0 759.3,388.4 760.4,390.8 761.6,393.1 762.9,395.3 764.4,397.5 765.9,399.5 767.5,401.4 769.2,403.2 771.0,404.8 772.8,406.3 774.6,407.6 776.4,408.7 778.3,409.5 780.1,410.2 781.9,410.7 783.6,410.9 785.3,410.9 786.9,410.7 788.4,410.3 789.8,409.7" fill="#fbfdfb" stroke="#000" stroke-width="2.40" stroke-linejoin="round" />
<polyline points="824.7,389.4 825.9,388.3 826.9,387.1 827.7,385.6 828.4,384.0 829.0,382.3 829.4,380.4 829.6,378.3 829.6,376.2 829.5,374.0 829.2,371.7 828.8,369.4 828.2,367.0 827.4,364.6 826.5,362.2 825.4,359.9 824.2,357.6 822.9,355.4 821.5,353.2 819.9,351.2 818.3,349.3 816.6,347.5 814.9,345.9 813.1,344.4 811.3,343.1 809.4,342.0 807.6,341.1 805.8,340.5 804.0,340.0 802.3,339.7 800.6,339.7 799.0,339.9 797.5,340.3" fill="none" stroke="#000" stroke-width="1.32" stroke-linecap="round" />
<polyline points="822.5,390.6 823.7,389.6 824.7,388.3 825.6,386.9 826.3,385.3 826.8,383.5 827.2,381.6 827.4,379.6 827.5,377.5 827.3,375.2 827.1,373.0 826.6,370.6 826.0,368.2 825.2,365.9 824.3,363.5 823.2,361.1 822.0,358.8 820.7,356.6 819.3,354.5 817.8,352.4 816.2,350.5 814.5,348.7 812.7,347.1 810.9,345.6 809.1,344.4 807.3,343.3 805.4,342.4 803.6,341.7 801.8,341.2 800.1,341.0 798.4,341.0 796.8,341.1 795.3,341.6" fill="none" stroke="#000" stroke-width="1.32" stroke-linecap="round" />
<polyline points="820.4,391.9 821.5,390.8 822.5,389.6 823.4,388.1 824.1,386.5 824.6,384.8 825.0,382.9 825.2,380.8 825.3,378.7 825.2,376.5 824.9,374.2 824.4,371.9 823.8,369.5 823.1,367.1 822.1,364.7 821.1,362.4 819.9,360.1 818.6,357.9 817.1,355.7 815.6,353.7 814.0,351.8 812.3,350.0 810.6,348.4 808.8,346.9 806.9,345.6 805.1,344.5 803.3,343.6 801.5,343.0 799.7,342.5 797.9,342.2 796.3,342.2 794.7,342.4 793.2,342.8" fill="none" stroke="#000" stroke-width="1.32" stroke-linecap="round" />
<polygon points="792.6,415.3 793.9,414.5 795.1,413.5 796.2,412.4 797.1,411.1 798.0,409.6 798.7,408.1 799.3,406.3 799.7,404.5 800.1,402.6 800.3,400.6 800.3,398.4 800.2,396.2 800.0,394.0 799.7,391.7 799.2,389.4 798.6,387.0 797.8,384.6 797.0,382.2 796.0,379.9 794.9,377.6 793.7,375.3 792.4,373.1 791.0,370.9 789.5,368.8 788.0,366.8 786.3,364.9 784.7,363.2 782.9,361.5 781.2,360.0 779.4,358.6 777.6,357.4 775.7,356.3 773.9,355.4 772.1,354.7 770.3,354.1 768.5,353.7 766.8,353.5 765.1,353.4 763.5,353.5 762.0,353.8 760.5,354.3 759.2,355.0 650.3,417.8 649.0,418.6 647.8,419.6 646.8,420.8 645.8,422.1 644.9,423.5 644.2,425.1 643.6,426.8 643.2,428.6 642.8,430.6 642.7,432.6 642.6,434.7 642.7,436.9 642.9,439.2 643.2,441.5 643.7,443.8 644.3,446.2 645.1,448.5 645.9,450.9 646.9,453.3 648.0,455.6 649.2,457.9 650.5,460.1 651.9,462.3 653.4,464.3 654.9,466.3 656.6,468.2 658.2,470.0 660.0,471.6 661.7,473.2 663.5,474.5 665.3,475.8 667.2,476.8 669.0,477.7 670.8,478.5 672.6,479.1 674.4,479.5 676.1,479.7 677.8,479.7 679.4,479.6 680.9,479.3 682.4,478.8 683.7,478.2" fill="#fbfdfb" stroke="#000" stroke-width="2.40" stroke-linejoin="round" />
<path d="M797.3,410.8 L703.4,463.9 Q700.9,464.0 705.2,460.0 L799.1,406.8" fill="none" stroke="#000" stroke-width="0.9"/>
<path d="M800.0,403.3 L708.4,455.2 Q705.2,454.8 708.7,450.1 L800.3,398.0" fill="none" stroke="#000" stroke-width="0.9"/>
<path d="M800.0,393.9 L710.2,445.1 Q706.2,444.2 709.0,439.3 L798.8,387.9" fill="none" stroke="#000" stroke-width="0.9"/>
<path d="M797.4,383.5 L708.6,434.4 Q704.0,433.5 706.1,428.7 L794.9,377.5" fill="none" stroke="#000" stroke-width="0.9"/>
<path d="M792.5,373.3 L703.8,424.5 Q698.7,423.9 700.3,419.3 L788.8,367.9" fill="none" stroke="#000" stroke-width="0.9"/>
<path d="M785.8,364.3 L696.4,416.4 Q690.8,416.3 692.1,412.4 L781.4,360.2" fill="none" stroke="#000" stroke-width="0.9"/>
<path d="M778.0,357.7 L687.1,410.9 Q681.4,411.6 682.6,408.5 L773.4,355.2" fill="none" stroke="#000" stroke-width="0.9"/>
<path d="M770.0,354.0 L676.9,408.7 Q671.3,410.3 672.7,408.2 L765.6,353.4" fill="none" stroke="#000" stroke-width="0.9"/>
<path d="M762.6,353.7 L667.0,410.0 Q661.7,412.6 663.5,411.4 L759.0,355.1" fill="none" stroke="#000" stroke-width="0.9"/>
<polyline points="791.2,412.7 794.2,417.3 795.4,416.5 792.8,411.6 793.7,410.7 797.2,414.8 798.2,413.7 795.1,409.1 795.8,408.0 799.5,411.5 800.2,410.0 796.8,405.9 797.2,404.5 801.1,407.3 801.5,405.6 797.8,402.1 798.0,400.5 802.0,402.5 802.1,400.5 798.2,397.7 798.2,396.0 802.0,397.2 801.8,395.0 797.9,393.0 797.6,391.1 801.3,391.5 800.8,389.2 796.9,388.0 796.4,386.1 799.7,385.6 799.0,383.3 795.3,383.0 794.5,381.1 797.5,379.6 796.5,377.4 793.1,378.0 792.1,376.1 794.6,373.9 793.3,371.8 790.4,373.2 789.2,371.5 791.1,368.5 789.7,366.6 787.2,368.8 785.9,367.3 787.2,363.6 785.6,361.9 783.7,364.9 782.3,363.6 782.9,359.3 781.2,357.9 780.0,361.6 778.5,360.5 778.4,355.9 776.7,354.8 776.1,359.0 774.6,358.3 773.9,353.3 772.1,352.6 772.2,357.2 770.8,356.8 769.4,351.7 767.7,351.3 768.5,356.3 767.1,356.2 765.1,351.1 763.5,351.2 764.9,356.2 763.7,356.5 761.1,351.6 759.7,352.0 761.7,357.1 760.6,357.6" fill="none" stroke="#000" stroke-width="2.2" stroke-linejoin="round"/>
<polygon points="686.5,485.8 687.6,485.1 688.6,484.3 689.6,483.4 690.4,482.3 691.2,481.1 691.9,479.8 692.4,478.4 692.9,476.9 693.3,475.2 693.6,473.5 693.8,471.7 693.9,469.8 693.9,467.8 693.8,465.7 693.6,463.6 693.3,461.4 692.9,459.2 692.4,456.9 691.8,454.6 691.1,452.3 690.3,450.0 689.5,447.6 688.5,445.3 687.5,442.9 686.4,440.6 685.2,438.3 684.0,436.1 682.7,433.9 681.3,431.7 679.9,429.6 678.4,427.6 676.9,425.7 675.4,423.8 673.8,422.0 672.2,420.4 670.6,418.8 669.0,417.3 667.3,415.9 665.7,414.7 664.0,413.6 662.4,412.6 660.8,411.7 659.2,411.0 657.6,410.4 656.0,410.0 654.5,409.6 653.1,409.5 651.7,409.4 650.3,409.6 649.0,409.8 647.8,410.2 646.6,410.7 621.4,427.0 620.3,427.7 619.3,428.5 618.5,429.4 617.7,430.5 617.0,431.7 616.3,433.0 615.8,434.4 615.4,436.0 615.1,437.6 614.9,439.4 614.7,441.2 614.7,443.2 614.8,445.2 615.0,447.3 615.3,449.4 615.7,451.6 616.2,453.9 616.7,456.2 617.4,458.5 618.2,460.8 619.1,463.2 620.0,465.5 621.0,467.8 622.1,470.2 623.3,472.5 624.5,474.7 625.8,476.9 627.2,479.1 628.6,481.2 630.1,483.2 631.6,485.1 633.1,487.0 634.7,488.8 636.3,490.4 637.9,492.0 639.5,493.4 641.2,494.7 642.8,495.9 644.4,497.0 646.0,497.9 647.6,498.7 649.1,499.4 650.7,499.9 652.1,500.3 653.6,500.5 654.9,500.6 656.3,500.5 657.5,500.3 658.7,500.0 659.9,499.5" fill="#fbfdfb" stroke="#000" stroke-width="2.28" stroke-linejoin="round" />
<polygon points="629.0,420.8 627.5,420.6 625.9,420.5 624.4,420.6 623.0,420.8 656.8,410.2 656.7,406.2 658.4,406.7 660.0,407.3 661.7,408.0 663.5,408.9 662.7,412.8" fill="#fbfdfb" stroke="#000" stroke-width="2.28" stroke-linejoin="round" />
<polygon points="637.7,424.0 635.9,423.1 634.2,422.3 632.5,421.7 630.9,421.2 664.4,413.9 665.4,410.0 667.1,411.1 668.9,412.3 670.6,413.7 672.3,415.1 670.5,418.7" fill="#fbfdfb" stroke="#000" stroke-width="2.28" stroke-linejoin="round" />
<polygon points="646.5,430.3 644.8,428.8 643.1,427.5 641.3,426.2 639.6,425.1 672.2,420.3 674.2,416.9 675.9,418.5 677.5,420.3 679.1,422.1 680.7,424.1 677.9,427.0" fill="#fbfdfb" stroke="#000" stroke-width="2.28" stroke-linejoin="round" />
<polygon points="654.9,439.3 653.3,437.3 651.7,435.5 650.1,433.7 648.4,432.0 679.5,429.0 682.4,426.3 683.9,428.4 685.3,430.5 686.6,432.7 687.9,435.0 684.5,437.0" fill="#fbfdfb" stroke="#000" stroke-width="2.28" stroke-linejoin="round" />
<polygon points="662.1,450.2 660.8,447.9 659.4,445.7 658.0,443.6 656.6,441.5 685.7,439.3 689.3,437.5 690.5,439.8 691.5,442.2 692.5,444.6 693.5,446.9 689.6,447.9" fill="#fbfdfb" stroke="#000" stroke-width="2.28" stroke-linejoin="round" />
<polygon points="667.6,462.2 666.6,459.8 665.7,457.4 664.6,455.1 663.5,452.8 690.4,450.3 694.4,449.6 695.1,452.0 695.8,454.3 696.3,456.7 696.8,459.0 692.8,458.8" fill="#fbfdfb" stroke="#000" stroke-width="2.28" stroke-linejoin="round" />
<polygon points="670.8,474.2 670.4,471.9 669.8,469.6 669.2,467.2 668.5,464.8 693.2,461.1 697.2,461.6 697.5,463.8 697.6,466.0 697.7,468.1 697.7,470.2 693.9,468.9" fill="#fbfdfb" stroke="#000" stroke-width="2.28" stroke-linejoin="round" />
<polygon points="671.7,485.4 671.7,483.4 671.7,481.2 671.5,479.0 671.2,476.8 693.8,470.9 697.5,472.5 697.3,474.4 697.0,476.2 696.6,478.0 696.0,479.6 692.8,477.3" fill="#fbfdfb" stroke="#000" stroke-width="2.28" stroke-linejoin="round" />
<polygon points="670.0,494.8 670.5,493.2 671.0,491.4 671.3,489.6 671.5,487.7 692.2,478.9 695.4,481.4 694.7,482.9 693.9,484.2 693.0,485.4 692.0,486.5 689.6,483.4" fill="#fbfdfb" stroke="#000" stroke-width="2.28" stroke-linejoin="round" />
<polygon points="633.4,425.3 632.9,425.1 632.4,423.9 631.9,422.3 631.3,421.3 630.8,421.2 630.2,421.1 629.7,420.9 629.2,421.9 628.9,423.2 628.5,423.9 628.0,423.8 627.5,423.7 627.1,423.7 626.4,422.7 625.6,421.3 625.0,420.6 624.5,420.6 624.0,420.6 623.5,420.7 623.3,421.7 623.3,423.1 623.1,424.0 622.7,424.1 622.3,424.2 621.9,424.3 621.1,423.5 620.1,422.4 619.4,421.9 619.0,422.1 618.5,422.3 618.1,422.6 618.3,423.7 618.6,425.1 618.7,426.0 618.4,426.3 618.1,426.6 617.7,426.9 616.8,426.3 615.7,425.6 614.8,425.3 614.5,425.7 614.2,426.1 613.9,426.5 614.3,427.6 615.0,429.0 615.3,430.0 615.1,430.4 614.9,430.8 614.7,431.2 613.7,431.0 612.4,430.6 611.6,430.6 611.4,431.2 611.2,431.7 611.0,432.2 611.7,433.4 612.7,434.6 613.3,435.6 613.1,436.1 613.0,436.7 613.0,437.2 612.0,437.3 610.6,437.3 609.8,437.6 609.7,438.2 609.7,438.9 609.6,439.5 610.5,440.6 611.8,441.7 612.5,442.6 612.6,443.2 612.6,443.9 612.6,444.5 611.6,444.9 610.3,445.3 609.6,445.8 609.6,446.6 609.7,447.3 609.8,448.0 610.9,448.9 612.3,449.8 613.2,450.6 613.4,451.3 613.5,452.0 613.6,452.7 612.8,453.4 611.5,454.2 610.9,454.9 611.1,455.7 611.3,456.5 611.5,457.3 612.7,458.0 614.3,458.6 615.3,459.3 615.5,460.0 615.8,460.8 616.0,461.5 615.3,462.5 614.2,463.5 613.7,464.5 614.0,465.3 614.3,466.1 614.6,466.9 615.9,467.4 617.6,467.7 618.6,468.2 619.0,468.9 619.3,469.6 619.7,470.4 619.1,471.5 618.2,472.8 617.9,474.0 618.3,474.7 618.7,475.5 619.1,476.3 620.4,476.5 622.0,476.5 623.1,476.8 623.5,477.5 623.9,478.2 624.3,478.8 623.9,480.1 623.3,481.7 623.2,482.9 623.7,483.6 624.1,484.3 624.6,485.0 625.9,485.0 627.4,484.6 628.4,484.7 628.9,485.3 629.3,485.9 629.8,486.5 629.7,487.9 629.3,489.6 629.3,490.8 629.9,491.4 630.4,492.0 631.0,492.6 632.1,492.3 633.4,491.7 634.3,491.6 634.8,492.1 635.3,492.6 635.9,493.1 635.9,494.5 635.8,496.2 636.1,497.4 636.6,497.9 637.2,498.3 637.8,498.8 638.7,498.3 639.8,497.4 640.6,497.0 641.1,497.4 641.6,497.8 642.1,498.1 642.4,499.5 642.6,501.2 643.0,502.3 643.6,502.6 644.2,502.9 644.8,503.2 645.5,502.4 646.2,501.3 646.8,500.8 647.3,501.0 647.8,501.2 648.3,501.4 648.8,502.6 649.3,504.2 649.9,505.2 650.4,505.3 651.0,505.4 651.5,505.6 652.0,504.6 652.4,503.3 652.7,502.6 653.2,502.7 653.7,502.8 654.1,502.8 654.8,503.8 655.6,505.2 656.3,505.9 656.8,505.9 657.2,505.9 657.7,505.8 657.9,504.8 657.9,503.4 658.1,502.5 658.5,502.4 658.9,502.3 659.3,502.2 660.1,503.0 661.1,504.1 661.8,504.6 662.3,504.4 662.7,504.2 663.1,503.9 663.0,502.8 661.7,499.9 662.0,499.7 662.3,499.4 662.6,499.1 662.9,498.9 663.2,498.6 663.5,498.3 663.7,498.0 664.0,497.6 664.3,497.3 664.5,497.0 664.7,496.6 665.0,496.2 665.2,495.8 665.4,495.5 665.6,495.0 665.8,494.6 666.0,494.2 666.2,493.8 666.3,493.3 666.5,492.9 666.6,492.4 666.8,491.9 666.9,491.4 667.0,490.9 667.1,490.4 667.2,489.9 667.3,489.4 667.4,488.8 667.5,488.3 667.6,487.7 667.6,487.2 667.7,486.6 667.7,486.0 667.7,485.4 667.8,484.8 667.8,484.2 667.8,483.6 667.8,483.0 667.7,482.4 667.7,481.7 667.7,481.1 667.6,480.4 667.6,479.8 667.5,479.1 667.4,478.5 667.3,477.8 667.2,477.1 667.1,476.5 667.0,475.8 666.9,475.1 666.8,474.4 666.6,473.7 666.5,473.0 666.3,472.3 666.2,471.6 666.0,470.9 665.8,470.2 665.6,469.5 665.4,468.8 665.2,468.0 665.0,467.3 664.7,466.6 664.5,465.9 664.2,465.2 664.0,464.4 663.7,463.7 663.5,463.0 663.2,462.3 662.9,461.6 662.6,460.8 662.3,460.1 662.0,459.4 661.7,458.7 661.4,458.0 661.0,457.2 660.7,456.5 660.3,455.8 660.0,455.1 659.6,454.4 659.3,453.7 658.9,453.0 658.5,452.3 658.1,451.6 657.7,450.9 657.3,450.2 656.9,449.6 656.5,448.9 656.1,448.2 655.7,447.6 655.3,446.9 654.8,446.3 654.4,445.6 654.0,445.0 653.5,444.3 653.1,443.7 652.6,443.1 652.2,442.5 651.7,441.9 651.2,441.3 650.8,440.7 650.3,440.1 649.8,439.5 649.3,439.0 648.9,438.4 648.4,437.8 647.9,437.3 647.4,436.8 646.9,436.3 646.4,435.7 645.9,435.2 645.4,434.7 644.9,434.3 644.4,433.8 643.9,433.3 643.4,432.9 642.9,432.4 642.4,432.0 641.9,431.6 641.4,431.2 640.9,430.8 640.4,430.4 639.8,430.0 639.3,429.6 638.8,429.3 638.3,429.0 637.8,428.6 637.3,428.3 636.8,428.0 636.3,427.7 635.8,427.4 635.3,427.2 634.8,426.9 634.3,426.7 633.8,426.5 633.3,426.2" fill="#fbfdfb" stroke="none" stroke-width="0.00" stroke-linejoin="round" />
<polyline points="633.4,425.3 632.9,425.1 632.4,423.9 631.9,422.3 631.3,421.3 630.8,421.2 630.2,421.1 629.7,420.9 629.2,421.9 628.9,423.2 628.5,423.9 628.0,423.8 627.5,423.7 627.1,423.7 626.4,422.7 625.6,421.3 625.0,420.6 624.5,420.6 624.0,420.6 623.5,420.7 623.3,421.7 623.3,423.1 623.1,424.0 622.7,424.1 622.3,424.2 621.9,424.3 621.1,423.5 620.1,422.4 619.4,421.9 619.0,422.1 618.5,422.3 618.1,422.6 618.3,423.7 618.6,425.1 618.7,426.0 618.4,426.3 618.1,426.6 617.7,426.9 616.8,426.3 615.7,425.6 614.8,425.3 614.5,425.7 614.2,426.1 613.9,426.5 614.3,427.6 615.0,429.0 615.3,430.0 615.1,430.4 614.9,430.8 614.7,431.2 613.7,431.0 612.4,430.6 611.6,430.6 611.4,431.2 611.2,431.7 611.0,432.2 611.7,433.4 612.7,434.6 613.3,435.6 613.1,436.1 613.0,436.7 613.0,437.2 612.0,437.3 610.6,437.3 609.8,437.6 609.7,438.2 609.7,438.9 609.6,439.5 610.5,440.6 611.8,441.7 612.5,442.6 612.6,443.2 612.6,443.9 612.6,444.5 611.6,444.9 610.3,445.3 609.6,445.8 609.6,446.6 609.7,447.3 609.8,448.0 610.9,448.9 612.3,449.8 613.2,450.6 613.4,451.3 613.5,452.0 613.6,452.7 612.8,453.4 611.5,454.2 610.9,454.9 611.1,455.7 611.3,456.5 611.5,457.3 612.7,458.0 614.3,458.6 615.3,459.3 615.5,460.0 615.8,460.8 616.0,461.5 615.3,462.5 614.2,463.5 613.7,464.5 614.0,465.3 614.3,466.1 614.6,466.9 615.9,467.4 617.6,467.7 618.6,468.2 619.0,468.9 619.3,469.6 619.7,470.4 619.1,471.5 618.2,472.8 617.9,474.0 618.3,474.7 618.7,475.5 619.1,476.3 620.4,476.5 622.0,476.5 623.1,476.8 623.5,477.5 623.9,478.2 624.3,478.8 623.9,480.1 623.3,481.7 623.2,482.9 623.7,483.6 624.1,484.3 624.6,485.0 625.9,485.0 627.4,484.6 628.4,484.7 628.9,485.3 629.3,485.9 629.8,486.5 629.7,487.9 629.3,489.6 629.3,490.8 629.9,491.4 630.4,492.0 631.0,492.6 632.1,492.3 633.4,491.7 634.3,491.6 634.8,492.1 635.3,492.6 635.9,493.1 635.9,494.5 635.8,496.2 636.1,497.4 636.6,497.9 637.2,498.3 637.8,498.8 638.7,498.3 639.8,497.4 640.6,497.0 641.1,497.4 641.6,497.8 642.1,498.1 642.4,499.5 642.6,501.2 643.0,502.3 643.6,502.6 644.2,502.9 644.8,503.2 645.5,502.4 646.2,501.3 646.8,500.8 647.3,501.0 647.8,501.2 648.3,501.4 648.8,502.6 649.3,504.2 649.9,505.2 650.4,505.3 651.0,505.4 651.5,505.6 652.0,504.6 652.4,503.3 652.7,502.6 653.2,502.7 653.7,502.8 654.1,502.8 654.8,503.8 655.6,505.2 656.3,505.9 656.8,505.9 657.2,505.9 657.7,505.8 657.9,504.8 657.9,503.4 658.1,502.5 658.5,502.4 658.9,502.3 659.3,502.2 660.1,503.0 661.1,504.1 661.8,504.6 662.3,504.4 662.7,504.2 663.1,503.9 663.0,502.8" fill="none" stroke="#000" stroke-width="1.92" stroke-linejoin="round"/>
<polygon points="650.5,493.9 651.8,493.1 653.0,492.0 654.0,490.8 655.0,489.5 655.8,488.0 656.4,486.3 656.9,484.5 657.3,482.6 657.5,480.5 657.5,478.4 657.4,476.2 657.2,473.9 656.8,471.5 656.3,469.2 655.6,466.8 654.7,464.4 653.8,462.0 652.7,459.6 651.5,457.3 650.2,455.1 648.8,452.9 647.2,450.9 645.7,448.9 644.0,447.0 642.3,445.3 640.5,443.7 638.7,442.3 636.9,441.1 635.0,440.0 633.2,439.1 631.3,438.4 629.5,437.8 627.8,437.5 626.1,437.4 624.4,437.4 622.9,437.7 621.4,438.1 620.0,438.8 554.4,476.6 553.1,477.5 551.9,478.5 550.9,479.7 550.0,481.1 549.2,482.6 548.5,484.3 548.0,486.1 547.6,488.0 547.4,490.0 547.4,492.2 547.5,494.4 547.7,496.7 548.1,499.0 548.7,501.4 549.3,503.8 550.2,506.2 551.1,508.6 552.2,510.9 553.4,513.2 554.7,515.5 556.2,517.6 557.7,519.7 559.3,521.7 560.9,523.5 562.7,525.2 564.4,526.8 566.2,528.2 568.1,529.5 569.9,530.6 571.7,531.5 573.6,532.2 575.4,532.7 577.1,533.0 578.8,533.2 580.5,533.1 582.1,532.9 583.6,532.4 585.0,531.8" fill="#fbfdfb" stroke="#000" stroke-width="2.40" stroke-linejoin="round" />
<polyline points="621.2,509.0 622.4,507.9 623.4,506.7 624.2,505.2 625.0,503.7 625.6,501.9 626.0,500.1 626.3,498.1 626.4,496.0 626.4,493.8 626.2,491.6 625.8,489.3 625.3,486.9 624.7,484.5 623.9,482.1 622.9,479.8 621.9,477.4 620.7,475.1 619.4,472.9 617.9,470.7 616.4,468.7 614.8,466.7 613.1,464.9 611.4,463.2 609.6,461.7 607.8,460.3 606.0,459.2 604.2,458.2 602.3,457.4 600.5,456.7 598.7,456.3 597.0,456.1 595.4,456.1 593.8,456.3 592.3,456.7" fill="none" stroke="#000" stroke-width="1.80" stroke-linecap="round" />
<ellipse cx="569.7" cy="504.2" rx="31.1" ry="18.3" transform="rotate(61.0 569.7 504.2)" fill="#fbfdfb" stroke="#000" stroke-width="2.40" />
<polyline points="590.7,527.3 591.7,526.1 592.5,524.7 593.3,523.1 593.8,521.4 594.3,519.5 594.6,517.6 594.7,515.5 594.7,513.3 594.5,511.1 594.2,508.8 593.8,506.5 593.2,504.1 592.4,501.7 591.5,499.4 590.5,497.0 589.4,494.7 588.1,492.4 586.8,490.2 585.3,488.1 583.8,486.1 582.1,484.2 580.5,482.5 578.7,480.8 576.9,479.4 575.1,478.0 573.3,476.9 571.5,475.9 569.7,475.1 567.9,474.5 566.1,474.1 564.4,473.9 562.7,473.8 561.1,474.0" fill="none" stroke="#000" stroke-width="1.44" stroke-linecap="round" />
<polyline points="592.8,526.1 593.8,524.8 594.7,523.4 595.4,521.8 596.0,520.1 596.5,518.3 596.7,516.3 596.9,514.2 596.9,512.1 596.7,509.8 596.4,507.6 595.9,505.2 595.3,502.9 594.6,500.5 593.7,498.1 592.7,495.8 591.5,493.4 590.3,491.2 588.9,489.0 587.5,486.9 585.9,484.9 584.3,483.0 582.6,481.2 580.9,479.6 579.1,478.1 577.3,476.8 575.5,475.6 573.7,474.6 571.8,473.9 570.0,473.2 568.3,472.8 566.5,472.6 564.9,472.6 563.3,472.8" fill="none" stroke="#000" stroke-width="1.44" stroke-linecap="round" />
<polygon points="578.7,520.5 580.0,519.5 581.0,518.3 581.9,516.8 582.5,515.0 582.8,513.0 582.8,510.8 582.6,508.5 582.2,506.1 581.4,503.7 580.5,501.2 579.3,498.9 577.9,496.6 576.4,494.5 574.7,492.6 572.9,490.9 571.0,489.5 569.2,488.4 567.3,487.6 565.5,487.2 563.7,487.1 562.1,487.3 560.7,487.9 536.1,502.1 534.8,503.1 533.7,504.3 532.9,505.8 532.3,507.6 532.0,509.6 531.9,511.8 532.1,514.1 532.6,516.5 533.3,518.9 534.3,521.4 535.5,523.7 536.9,526.0 538.4,528.1 540.1,530.0 541.9,531.7 543.7,533.1 545.6,534.2 547.5,535.0 549.3,535.4 551.0,535.5 552.6,535.3 554.1,534.7" fill="#fbfdfb" stroke="#000" stroke-width="2.40" stroke-linejoin="round" />
<ellipse cx="545.1" cy="518.4" rx="18.6" ry="11.0" transform="rotate(61.0 545.1 518.4)" fill="#fbfdfb" stroke="#000" stroke-width="2.40" />
<polyline points="558.4,531.8 559.4,530.4 560.2,528.8 560.6,526.9 560.8,524.8 560.8,522.5 560.4,520.1 559.8,517.7 559.0,515.2 557.9,512.8 556.6,510.4 555.1,508.2 553.5,506.2 551.7,504.4 549.9,502.8 548.0,501.6 546.1,500.6 544.2,500.0 542.4,499.8 540.8,499.9" fill="none" stroke="#000" stroke-width="1.44" stroke-linecap="round" />
<line x1="508.6" y1="539.6" x2="541.7" y2="520.9" stroke="#fbfdfb" stroke-width="7.5"/>
<line x1="508.6" y1="539.6" x2="541.7" y2="520.9" stroke="#000" stroke-width="1.80" stroke-linecap="butt"/>
<polygon points="504.8,611.7 506.0,610.9 507.1,610.1 508.2,609.2 509.2,608.1 510.2,607.0 511.1,605.8 511.9,604.6 512.7,603.2 513.4,601.8 514.1,600.3 514.6,598.7 515.1,597.1 515.6,595.4 515.9,593.7 516.2,591.8 516.4,590.0 516.6,588.0 516.7,586.0 516.7,584.0 516.6,581.9 516.5,579.8 516.3,577.7 516.0,575.5 515.6,573.3 515.2,571.1 514.7,568.8 514.1,566.5 513.5,564.2 512.8,561.9 512.0,559.6 511.2,557.3 510.3,555.0 509.4,552.7 508.3,550.4 507.3,548.1 506.1,545.8 505.0,543.6 503.7,541.3 502.4,539.1 501.1,537.0 499.7,534.8 498.3,532.7 496.8,530.7 495.3,528.7 493.7,526.7 492.2,524.8 490.5,523.0 488.9,521.2 487.2,519.4 485.5,517.8 483.8,516.2 482.1,514.6 480.3,513.2 478.6,511.8 476.8,510.5 475.1,509.2 473.3,508.1 471.5,507.0 469.7,506.0 468.0,505.1 466.2,504.3 464.5,503.6 462.7,503.0 461.0,502.4 459.3,502.0 457.6,501.6 456.0,501.4 454.4,501.2 452.8,501.1 451.2,501.1 449.7,501.2 448.2,501.5 446.8,501.8 445.4,502.2 444.1,502.6 442.8,503.2 441.5,503.9 412.8,522.2 411.7,522.9 410.5,523.8 409.5,524.7 408.5,525.7 407.6,526.8 406.7,528.0 405.9,529.3 405.1,530.6 404.5,532.1 403.9,533.6 403.3,535.1 402.9,536.8 402.5,538.5 402.1,540.3 401.9,542.1 401.7,544.0 401.6,545.9 401.6,547.9 401.6,550.0 401.8,552.1 402.0,554.2 402.2,556.4 402.6,558.6 403.0,560.8 403.5,563.0 404.0,565.3 404.6,567.6 405.3,569.9 406.1,572.2 406.9,574.5 407.8,576.8 408.8,579.1 409.8,581.4 410.9,583.7 412.0,586.0 413.2,588.3 414.4,590.5 415.7,592.7 417.1,594.9 418.4,597.0 419.9,599.1 421.4,601.2 422.9,603.2 424.4,605.1 426.0,607.0 427.6,608.9 429.3,610.7 430.9,612.4 432.6,614.1 434.3,615.7 436.1,617.2 437.8,618.6 439.6,620.0 441.3,621.3 443.1,622.5 444.8,623.6 446.6,624.7 448.4,625.6 450.1,626.5 451.8,627.2 453.6,627.9 455.3,628.5 457.0,629.0 458.6,629.4 460.3,629.7 461.9,629.9 463.4,630.0 465.0,630.0 466.5,629.9 467.9,629.8 469.4,629.5 470.7,629.1 472.1,628.6 473.3,628.1 474.6,627.4" fill="#fbfdfb" stroke="#000" stroke-width="2.28" stroke-linejoin="round" />
<polygon points="419.6,514.4 418.1,514.6 416.8,514.8 415.4,515.2 414.1,515.6 453.1,501.1 452.3,497.2 453.8,497.2 455.4,497.4 456.9,497.6 458.5,497.8 458.7,501.8" fill="#fbfdfb" stroke="#000" stroke-width="2.28" stroke-linejoin="round" />
<polygon points="427.5,514.6 425.9,514.4 424.4,514.2 422.9,514.2 421.4,514.2 460.5,502.3 460.5,498.3 462.1,498.7 463.7,499.2 465.4,499.8 467.0,500.5 466.5,504.4" fill="#fbfdfb" stroke="#000" stroke-width="2.28" stroke-linejoin="round" />
<polygon points="435.9,516.8 434.3,516.2 432.7,515.7 431.0,515.3 429.5,514.9 468.4,505.3 469.1,501.4 470.8,502.2 472.4,503.1 474.1,504.1 475.8,505.1 474.5,508.9" fill="#fbfdfb" stroke="#000" stroke-width="2.28" stroke-linejoin="round" />
<polygon points="444.6,521.1 443.0,520.1 441.3,519.2 439.7,518.4 438.0,517.7 476.5,510.2 477.9,506.4 479.5,507.6 481.2,508.8 482.8,510.1 484.4,511.5 482.5,515.0" fill="#fbfdfb" stroke="#000" stroke-width="2.28" stroke-linejoin="round" />
<polygon points="453.3,527.1 451.7,525.8 450.1,524.6 448.4,523.4 446.7,522.3 484.4,516.7 486.4,513.2 488.0,514.7 489.6,516.2 491.1,517.8 492.7,519.4 490.2,522.5" fill="#fbfdfb" stroke="#000" stroke-width="2.28" stroke-linejoin="round" />
<polygon points="461.7,534.8 460.2,533.2 458.6,531.7 457.0,530.2 455.4,528.8 491.9,524.5 494.6,521.5 496.0,523.3 497.5,525.0 498.9,526.9 500.3,528.7 497.2,531.3" fill="#fbfdfb" stroke="#000" stroke-width="2.28" stroke-linejoin="round" />
<polygon points="469.5,543.8 468.0,542.0 466.6,540.3 465.1,538.5 463.6,536.9 498.8,533.5 502.0,531.1 503.3,533.0 504.5,535.0 505.8,537.0 507.0,539.0 503.5,540.9" fill="#fbfdfb" stroke="#000" stroke-width="2.28" stroke-linejoin="round" />
<polygon points="476.3,553.9 475.1,552.0 473.8,550.0 472.5,548.1 471.2,546.2 504.8,543.4 508.4,541.5 509.5,543.6 510.5,545.7 511.5,547.8 512.5,549.9 508.7,551.2" fill="#fbfdfb" stroke="#000" stroke-width="2.28" stroke-linejoin="round" />
<polygon points="482.1,564.8 481.1,562.7 480.0,560.6 479.0,558.5 477.8,556.5 509.8,553.7 513.6,552.5 514.5,554.7 515.3,556.8 516.0,558.9 516.7,561.0 512.7,561.6" fill="#fbfdfb" stroke="#000" stroke-width="2.28" stroke-linejoin="round" />
<polygon points="486.5,575.9 485.8,573.8 485.0,571.7 484.2,569.5 483.3,567.4 513.5,564.1 517.5,563.7 518.0,565.8 518.5,567.9 519.0,570.0 519.4,572.1 515.4,572.0" fill="#fbfdfb" stroke="#000" stroke-width="2.28" stroke-linejoin="round" />
<polygon points="489.5,587.0 489.1,584.9 488.6,582.8 488.0,580.7 487.4,578.6 515.8,574.4 519.8,574.7 520.1,576.7 520.3,578.8 520.4,580.7 520.5,582.7 516.6,581.8" fill="#fbfdfb" stroke="#000" stroke-width="2.28" stroke-linejoin="round" />
<polygon points="491.0,597.7 490.8,595.7 490.6,593.7 490.4,591.7 490.0,589.7 516.7,584.1 520.5,585.1 520.5,587.0 520.4,588.8 520.2,590.7 520.0,592.4 516.4,590.8" fill="#fbfdfb" stroke="#000" stroke-width="2.28" stroke-linejoin="round" />
<polygon points="490.8,607.6 491.0,605.8 491.1,604.0 491.1,602.1 491.1,600.2 516.1,592.9 519.7,594.6 519.3,596.3 518.9,597.9 518.5,599.5 517.9,601.0 514.6,598.7" fill="#fbfdfb" stroke="#000" stroke-width="2.28" stroke-linejoin="round" />
<polygon points="489.0,616.4 489.5,614.9 489.9,613.3 490.2,611.6 490.5,609.9 514.0,600.4 517.2,602.8 516.6,604.2 515.9,605.6 515.1,606.8 514.3,608.1 511.5,605.3" fill="#fbfdfb" stroke="#000" stroke-width="2.28" stroke-linejoin="round" />
<polygon points="485.7,623.8 486.4,622.5 487.1,621.2 487.8,619.8 488.4,618.4 510.5,606.6 513.3,609.5 512.4,610.6 511.4,611.6 510.4,612.5 509.3,613.4 507.0,610.1" fill="#fbfdfb" stroke="#000" stroke-width="2.28" stroke-linejoin="round" />
<polygon points="432.4,518.5 431.9,518.7 431.3,518.6 430.8,518.4 430.3,518.1 429.7,516.7 429.1,515.2 428.5,514.7 427.9,514.6 427.4,514.6 426.8,514.6 426.4,515.8 426.1,517.1 425.6,517.5 425.1,517.4 424.6,517.4 424.1,517.2 423.4,515.9 422.6,514.6 422.0,514.2 421.4,514.2 420.9,514.2 420.4,514.4 420.3,515.7 420.2,517.1 419.8,517.5 419.3,517.6 418.9,517.6 418.4,517.6 417.5,516.5 416.6,515.3 415.9,515.0 415.5,515.1 415.0,515.3 414.6,515.6 414.6,516.9 414.8,518.3 414.5,518.8 414.1,519.0 413.7,519.2 413.2,519.2 412.2,518.3 411.1,517.3 410.5,517.2 410.1,517.4 409.7,517.7 409.3,518.0 409.6,519.4 410.0,520.8 409.9,521.4 409.5,521.7 409.2,521.9 408.7,522.1 407.6,521.4 406.5,520.6 405.8,520.6 405.5,521.0 405.1,521.3 404.9,521.8 405.4,523.1 406.0,524.5 406.0,525.2 405.7,525.5 405.4,525.9 405.0,526.2 403.8,525.7 402.6,525.1 402.0,525.3 401.7,525.7 401.5,526.2 401.3,526.7 402.0,528.0 402.8,529.3 402.9,530.0 402.7,530.5 402.5,530.9 402.2,531.3 401.0,531.0 399.7,530.8 399.1,531.0 398.9,531.6 398.7,532.1 398.7,532.7 399.6,533.9 400.6,535.2 400.8,535.9 400.7,536.4 400.5,537.0 400.3,537.5 399.0,537.4 397.7,537.4 397.2,537.8 397.1,538.4 397.0,539.0 397.0,539.6 398.1,540.8 399.3,541.9 399.6,542.6 399.6,543.2 399.5,543.8 399.4,544.4 398.1,544.6 396.8,544.8 396.4,545.3 396.3,546.0 396.3,546.7 396.4,547.4 397.7,548.4 399.0,549.4 399.4,550.1 399.5,550.8 399.5,551.4 399.4,552.0 398.2,552.5 396.9,552.9 396.5,553.6 396.6,554.3 396.7,555.0 396.9,555.7 398.3,556.6 399.7,557.4 400.2,558.1 400.3,558.8 400.5,559.5 400.5,560.2 399.3,560.8 398.1,561.5 397.8,562.3 397.9,563.0 398.1,563.7 398.4,564.5 399.9,565.2 401.4,565.8 402.0,566.5 402.2,567.2 402.4,567.9 402.5,568.6 401.4,569.5 400.3,570.4 400.1,571.2 400.3,572.0 400.5,572.7 400.9,573.5 402.5,574.0 404.0,574.4 404.7,575.1 405.0,575.8 405.2,576.5 405.4,577.3 404.4,578.3 403.4,579.4 403.3,580.3 403.6,581.0 404.0,581.8 404.4,582.5 406.0,582.8 407.6,583.1 408.3,583.6 408.6,584.3 408.9,585.0 409.2,585.8 408.3,587.0 407.5,588.3 407.5,589.2 407.9,590.0 408.2,590.7 408.8,591.4 410.3,591.5 411.9,591.5 412.6,592.0 413.0,592.7 413.4,593.4 413.7,594.1 413.0,595.5 412.3,596.9 412.4,597.8 412.9,598.5 413.3,599.2 413.9,599.8 415.4,599.7 416.9,599.6 417.7,600.0 418.1,600.6 418.6,601.3 419.0,602.0 418.4,603.5 417.9,605.0 418.1,605.9 418.6,606.6 419.1,607.2 419.7,607.8 421.1,607.5 422.6,607.1 423.3,607.4 423.8,608.0 424.3,608.6 424.7,609.2 424.4,610.8 424.0,612.4 424.3,613.3 424.9,613.9 425.4,614.5 426.0,615.0 427.3,614.5 428.7,613.9 429.4,614.1 429.9,614.6 430.5,615.1 430.9,615.7 430.8,617.4 430.6,619.0 431.0,619.9 431.6,620.4 432.1,620.9 432.8,621.2 433.9,620.6 435.1,619.8 435.8,619.9 436.4,620.3 436.9,620.8 437.4,621.3 437.5,622.9 437.5,624.6 437.9,625.4 438.5,625.8 439.1,626.2 439.7,626.5 440.7,625.7 441.7,624.7 442.4,624.7 443.0,625.1 443.5,625.4 444.0,625.9 444.3,627.5 444.5,629.1 445.0,629.8 445.6,630.1 446.2,630.4 446.8,630.6 447.6,629.6 448.4,628.5 449.0,628.4 449.6,628.7 450.1,628.9 450.7,629.3 451.1,630.8 451.5,632.4 452.1,633.0 452.6,633.2 453.2,633.4 453.8,633.5 454.4,632.3 455.0,631.1 455.5,630.9 456.1,631.0 456.6,631.2 457.1,631.5 457.7,632.9 458.3,634.4 458.9,634.9 459.5,635.0 460.0,635.0 460.6,635.0 461.0,633.8 461.3,632.5 461.8,632.1 462.3,632.2 462.8,632.2 463.3,632.4 464.0,633.7 464.8,635.0 465.4,635.4 466.0,635.4 466.5,635.4 467.0,635.2 467.1,633.9 467.2,632.5 467.6,632.1 468.1,632.0 468.5,632.0 469.0,632.0 469.9,633.1 470.8,634.3 471.5,634.6 471.9,634.5 472.4,634.3 472.8,634.0 472.8,632.7 472.6,631.3 472.9,630.8 473.3,630.6 473.7,630.4 474.2,630.4 475.2,631.3 476.3,632.3 476.9,632.4 477.3,632.2 477.7,631.9 478.1,631.6 477.8,630.2 477.4,628.8 477.0,627.4 477.3,627.1 477.7,626.9 478.0,626.6 478.3,626.3 478.7,626.0 479.0,625.7 479.3,625.4 479.6,625.1 479.9,624.8 480.2,624.4 480.5,624.1 480.8,623.7 481.1,623.4 481.3,623.0 481.6,622.6 481.9,622.3 482.1,621.9 482.4,621.5 482.6,621.1 482.8,620.7 483.1,620.3 483.3,619.8 483.5,619.4 483.7,619.0 483.9,618.5 484.1,618.1 484.3,617.6 484.5,617.1 484.7,616.7 484.9,616.2 485.0,615.7 485.2,615.2 485.3,614.7 485.5,614.2 485.6,613.7 485.8,613.2 485.9,612.7 486.0,612.2 486.1,611.6 486.2,611.1 486.4,610.5 486.4,610.0 486.5,609.4 486.6,608.9 486.7,608.3 486.8,607.8 486.8,607.2 486.9,606.6 486.9,606.0 487.0,605.4 487.0,604.8 487.0,604.2 487.1,603.6 487.1,603.0 487.1,602.4 487.1,601.8 487.1,601.2 487.1,600.5 487.1,599.9 487.0,599.3 487.0,598.6 487.0,598.0 486.9,597.3 486.9,596.7 486.8,596.0 486.7,595.4 486.7,594.7 486.6,594.1 486.5,593.4 486.4,592.7 486.3,592.1 486.2,591.4 486.1,590.7 486.0,590.1 485.9,589.4 485.7,588.7 485.6,588.0 485.4,587.3 485.3,586.6 485.1,585.9 485.0,585.2 484.8,584.6 484.6,583.9 484.4,583.2 484.3,582.5 484.1,581.8 483.9,581.1 483.6,580.4 483.4,579.7 483.2,579.0 483.0,578.3 482.8,577.6 482.5,576.8 482.3,576.1 482.0,575.4 481.8,574.7 481.5,574.0 481.2,573.3 481.0,572.6 480.7,571.9 480.4,571.2 480.1,570.5 479.8,569.8 479.5,569.1 479.2,568.4 478.9,567.7 478.6,567.0 478.2,566.3 477.9,565.6 477.6,564.9 477.2,564.2 476.9,563.5 476.5,562.8 476.2,562.2 475.8,561.5 475.4,560.8 475.1,560.1 474.7,559.4 474.3,558.7 473.9,558.1 473.5,557.4 473.1,556.7 472.7,556.1 472.3,555.4 471.9,554.7 471.5,554.1 471.1,553.4 470.7,552.8 470.3,552.1 469.8,551.5 469.4,550.8 469.0,550.2 468.5,549.6 468.1,548.9 467.6,548.3 467.2,547.7 466.7,547.1 466.2,546.5 465.8,545.9 465.3,545.3 464.8,544.7 464.4,544.1 463.9,543.5 463.4,542.9 462.9,542.3 462.4,541.7 462.0,541.2 461.5,540.6 461.0,540.1 460.5,539.5 460.0,538.9 459.5,538.4 459.0,537.9 458.5,537.3 457.9,536.8 457.4,536.3 456.9,535.8 456.4,535.3 455.9,534.8 455.4,534.3 454.8,533.8 454.3,533.3 453.8,532.8 453.3,532.4 452.7,531.9 452.2,531.4 451.7,531.0 451.1,530.6 450.6,530.1 450.1,529.7 449.5,529.3 449.0,528.9 448.5,528.4 447.9,528.0 447.4,527.7 446.8,527.3 446.3,526.9 445.8,526.5 445.2,526.2 444.7,525.8 444.1,525.5 443.6,525.1 443.1,524.8 442.5,524.5 442.0,524.1 441.4,523.8 440.9,523.5 440.4,523.2 439.8,523.0 439.3,522.7 438.7,522.4 438.2,522.1 437.7,521.9 437.1,521.6 436.6,521.4 436.1,521.2 435.5,521.0 435.0,520.8 434.5,520.6 434.0,520.4 433.4,520.2 432.9,520.0 432.4,519.8" fill="#fbfdfb" stroke="none" stroke-width="0.00" stroke-linejoin="round" />
<polyline points="432.4,518.5 431.9,518.7 431.3,518.6 430.8,518.4 430.3,518.1 429.7,516.7 429.1,515.2 428.5,514.7 427.9,514.6 427.4,514.6 426.8,514.6 426.4,515.8 426.1,517.1 425.6,517.5 425.1,517.4 424.6,517.4 424.1,517.2 423.4,515.9 422.6,514.6 422.0,514.2 421.4,514.2 420.9,514.2 420.4,514.4 420.3,515.7 420.2,517.1 419.8,517.5 419.3,517.6 418.9,517.6 418.4,517.6 417.5,516.5 416.6,515.3 415.9,515.0 415.5,515.1 415.0,515.3 414.6,515.6 414.6,516.9 414.8,518.3 414.5,518.8 414.1,519.0 413.7,519.2 413.2,519.2 412.2,518.3 411.1,517.3 410.5,517.2 410.1,517.4 409.7,517.7 409.3,518.0 409.6,519.4 410.0,520.8 409.9,521.4 409.5,521.7 409.2,521.9 408.7,522.1 407.6,521.4 406.5,520.6 405.8,520.6 405.5,521.0 405.1,521.3 404.9,521.8 405.4,523.1 406.0,524.5 406.0,525.2 405.7,525.5 405.4,525.9 405.0,526.2 403.8,525.7 402.6,525.1 402.0,525.3 401.7,525.7 401.5,526.2 401.3,526.7 402.0,528.0 402.8,529.3 402.9,530.0 402.7,530.5 402.5,530.9 402.2,531.3 401.0,531.0 399.7,530.8 399.1,531.0 398.9,531.6 398.7,532.1 398.7,532.7 399.6,533.9 400.6,535.2 400.8,535.9 400.7,536.4 400.5,537.0 400.3,537.5 399.0,537.4 397.7,537.4 397.2,537.8 397.1,538.4 397.0,539.0 397.0,539.6 398.1,540.8 399.3,541.9 399.6,542.6 399.6,543.2 399.5,543.8 399.4,544.4 398.1,544.6 396.8,544.8 396.4,545.3 396.3,546.0 396.3,546.7 396.4,547.4 397.7,548.4 399.0,549.4 399.4,550.1 399.5,550.8 399.5,551.4 399.4,552.0 398.2,552.5 396.9,552.9 396.5,553.6 396.6,554.3 396.7,555.0 396.9,555.7 398.3,556.6 399.7,557.4 400.2,558.1 400.3,558.8 400.5,559.5 400.5,560.2 399.3,560.8 398.1,561.5 397.8,562.3 397.9,563.0 398.1,563.7 398.4,564.5 399.9,565.2 401.4,565.8 402.0,566.5 402.2,567.2 402.4,567.9 402.5,568.6 401.4,569.5 400.3,570.4 400.1,571.2 400.3,572.0 400.5,572.7 400.9,573.5 402.5,574.0 404.0,574.4 404.7,575.1 405.0,575.8 405.2,576.5 405.4,577.3 404.4,578.3 403.4,579.4 403.3,580.3 403.6,581.0 404.0,581.8 404.4,582.5 406.0,582.8 407.6,583.1 408.3,583.6 408.6,584.3 408.9,585.0 409.2,585.8 408.3,587.0 407.5,588.3 407.5,589.2 407.9,590.0 408.2,590.7 408.8,591.4 410.3,591.5 411.9,591.5 412.6,592.0 413.0,592.7 413.4,593.4 413.7,594.1 413.0,595.5 412.3,596.9 412.4,597.8 412.9,598.5 413.3,599.2 413.9,599.8 415.4,599.7 416.9,599.6 417.7,600.0 418.1,600.6 418.6,601.3 419.0,602.0 418.4,603.5 417.9,605.0 418.1,605.9 418.6,606.6 419.1,607.2 419.7,607.8 421.1,607.5 422.6,607.1 423.3,607.4 423.8,608.0 424.3,608.6 424.7,609.2 424.4,610.8 424.0,612.4 424.3,613.3 424.9,613.9 425.4,614.5 426.0,615.0 427.3,614.5 428.7,613.9 429.4,614.1 429.9,614.6 430.5,615.1 430.9,615.7 430.8,617.4 430.6,619.0 431.0,619.9 431.6,620.4 432.1,620.9 432.8,621.2 433.9,620.6 435.1,619.8 435.8,619.9 436.4,620.3 436.9,620.8 437.4,621.3 437.5,622.9 437.5,624.6 437.9,625.4 438.5,625.8 439.1,626.2 439.7,626.5 440.7,625.7 441.7,624.7 442.4,624.7 443.0,625.1 443.5,625.4 444.0,625.9 444.3,627.5 444.5,629.1 445.0,629.8 445.6,630.1 446.2,630.4 446.8,630.6 447.6,629.6 448.4,628.5 449.0,628.4 449.6,628.7 450.1,628.9 450.7,629.3 451.1,630.8 451.5,632.4 452.1,633.0 452.6,633.2 453.2,633.4 453.8,633.5 454.4,632.3 455.0,631.1 455.5,630.9 456.1,631.0 456.6,631.2 457.1,631.5 457.7,632.9 458.3,634.4 458.9,634.9 459.5,635.0 460.0,635.0 460.6,635.0 461.0,633.8 461.3,632.5 461.8,632.1 462.3,632.2 462.8,632.2 463.3,632.4 464.0,633.7 464.8,635.0 465.4,635.4 466.0,635.4 466.5,635.4 467.0,635.2 467.1,633.9 467.2,632.5 467.6,632.1 468.1,632.0 468.5,632.0 469.0,632.0 469.9,633.1 470.8,634.3 471.5,634.6 471.9,634.5 472.4,634.3 472.8,634.0 472.8,632.7 472.6,631.3 472.9,630.8 473.3,630.6 473.7,630.4 474.2,630.4 475.2,631.3 476.3,632.3 476.9,632.4 477.3,632.2 477.7,631.9 478.1,631.6 477.8,630.2 477.4,628.8" fill="none" stroke="#000" stroke-width="1.92" stroke-linejoin="round"/>
<polygon points="466.6,617.4 468.0,616.5 469.3,615.5 470.5,614.4 471.6,613.2 472.7,611.9 473.6,610.4 474.5,608.9 475.3,607.2 476.0,605.5 476.6,603.7 477.0,601.8 477.4,599.8 477.7,597.8 477.9,595.7 477.9,593.5 477.9,591.3 477.7,589.0 477.5,586.7 477.1,584.4 476.7,582.1 476.1,579.7 475.5,577.3 474.7,574.9 473.9,572.6 472.9,570.2 471.9,567.9 470.8,565.5 469.6,563.3 468.3,561.0 467.0,558.8 465.5,556.7 464.0,554.6 462.5,552.6 460.9,550.7 459.2,548.8 457.5,547.0 455.7,545.3 453.9,543.8 452.1,542.3 450.3,540.9 448.4,539.6 446.5,538.5 444.6,537.4 442.7,536.5 440.8,535.7 438.9,535.0 437.0,534.4 435.2,534.0 433.4,533.7 431.6,533.6 429.8,533.5 428.1,533.6 426.4,533.8 424.8,534.2 423.2,534.7 421.7,535.3 420.2,536.0 408.1,543.0 406.7,543.9 405.4,544.9 404.2,546.0 403.1,547.2 402.0,548.5 401.1,550.0 400.2,551.5 399.4,553.2 398.8,554.9 398.2,556.7 397.7,558.6 397.3,560.6 397.0,562.6 396.9,564.7 396.8,566.9 396.8,569.1 397.0,571.4 397.2,573.7 397.6,576.0 398.0,578.3 398.6,580.7 399.3,583.1 400.0,585.5 400.9,587.8 401.8,590.2 402.8,592.5 403.9,594.9 405.1,597.1 406.4,599.4 407.8,601.6 409.2,603.7 410.7,605.8 412.2,607.8 413.8,609.7 415.5,611.6 417.2,613.4 419.0,615.1 420.8,616.6 422.6,618.1 424.5,619.5 426.3,620.8 428.2,621.9 430.1,623.0 432.0,623.9 433.9,624.7 435.8,625.4 437.7,626.0 439.5,626.4 441.4,626.7 443.2,626.8 444.9,626.9 446.7,626.8 448.3,626.6 450.0,626.2 451.5,625.7 453.0,625.1 454.5,624.4" fill="#fbfdfb" stroke="#000" stroke-width="1.92" stroke-linejoin="round" />
<ellipse cx="431.3" cy="583.7" rx="46.8" ry="29.4" transform="rotate(60.3 431.3 583.7)" fill="#fbfdfb" stroke="#000" stroke-width="1.92" />
<ellipse cx="430.2" cy="584.8" rx="28.6" ry="17.3" transform="rotate(63.6 430.2 584.8)" fill="none" stroke="#000" stroke-width="2.16" />
<line x1="392.8" y1="606.3" x2="430.2" y2="584.8" stroke="#fbfdfb" stroke-width="7.5"/>
<line x1="392.8" y1="606.3" x2="430.2" y2="584.8" stroke="#000" stroke-width="1.80" stroke-linecap="butt"/>
<polygon points="387.7,665.5 389.0,664.7 390.2,663.8 391.3,662.8 392.4,661.6 393.4,660.4 394.3,659.0 395.1,657.6 395.8,656.1 396.5,654.4 397.0,652.7 397.5,650.9 397.9,649.0 398.1,647.1 398.3,645.0 398.4,643.0 398.4,640.8 398.3,638.6 398.0,636.4 397.7,634.1 397.3,631.8 396.9,629.5 396.3,627.2 395.6,624.8 394.8,622.5 394.0,620.1 393.1,617.8 392.0,615.5 390.9,613.2 389.8,610.9 388.5,608.7 387.2,606.5 385.9,604.3 384.4,602.2 382.9,600.2 381.4,598.2 379.8,596.3 378.2,594.5 376.5,592.8 374.8,591.1 373.1,589.6 371.3,588.1 369.5,586.8 367.7,585.5 365.9,584.4 364.1,583.3 362.3,582.4 360.5,581.6 358.7,580.9 356.9,580.4 355.2,579.9 353.4,579.6 351.7,579.4 350.1,579.3 348.5,579.4 346.9,579.6 345.4,579.9 343.9,580.3 342.5,580.8 341.1,581.5 306.5,601.5 305.2,602.3 304.0,603.2 302.8,604.2 301.8,605.4 300.8,606.6 299.9,608.0 299.1,609.4 298.3,610.9 297.7,612.6 297.1,614.3 296.7,616.1 296.3,618.0 296.0,619.9 295.9,622.0 295.8,624.0 295.8,626.2 295.9,628.4 296.1,630.6 296.4,632.9 296.8,635.2 297.3,637.5 297.9,639.8 298.6,642.2 299.3,644.5 300.2,646.9 301.1,649.2 302.1,651.5 303.2,653.8 304.4,656.1 305.6,658.3 306.9,660.5 308.3,662.7 309.7,664.8 311.2,666.8 312.8,668.8 314.4,670.7 316.0,672.5 317.7,674.2 319.4,675.9 321.1,677.4 322.9,678.9 324.6,680.2 326.4,681.5 328.2,682.6 330.1,683.7 331.9,684.6 333.7,685.4 335.5,686.1 337.2,686.6 339.0,687.1 340.7,687.4 342.4,687.6 344.1,687.7 345.7,687.6 347.3,687.4 348.8,687.1 350.3,686.7 351.7,686.2 353.0,685.5" fill="#fbfdfb" stroke="#000" stroke-width="1.92" stroke-linejoin="round" />
<polygon points="365.8,714.1 367.0,713.4 368.2,712.6 369.4,711.7 370.5,710.8 371.6,709.8 372.6,708.8 373.7,707.7 374.6,706.5 375.5,705.3 376.4,704.0 377.2,702.6 378.0,701.2 378.7,699.8 379.4,698.2 380.0,696.7 380.6,695.1 381.1,693.4 381.6,691.7 382.0,689.9 382.4,688.1 382.7,686.2 382.9,684.3 383.2,682.4 383.3,680.4 383.4,678.4 383.5,676.3 383.5,674.2 383.4,672.1 383.3,669.9 383.1,667.8 382.9,665.6 382.7,663.4 382.3,661.1 382.0,658.9 381.5,656.6 381.0,654.3 380.5,652.0 379.9,649.7 379.3,647.4 378.6,645.0 377.9,642.7 377.1,640.4 376.3,638.1 375.4,635.7 374.5,633.4 373.5,631.1 372.5,628.8 371.5,626.5 370.4,624.3 369.3,622.0 368.1,619.8 366.9,617.6 365.6,615.4 364.3,613.2 363.0,611.1 361.7,609.0 360.3,606.9 358.8,604.8 357.4,602.8 355.9,600.8 354.4,598.9 352.9,597.0 351.3,595.2 349.7,593.4 348.1,591.6 346.5,589.9 344.9,588.2 343.2,586.6 341.5,585.0 339.8,583.5 338.1,582.1 336.4,580.7 334.7,579.3 333.0,578.1 331.3,576.8 329.5,575.7 327.8,574.6 326.0,573.6 324.3,572.6 322.6,571.7 320.8,570.9 319.1,570.1 317.4,569.4 315.7,568.8 314.0,568.2 312.3,567.7 310.6,567.3 309.0,566.9 307.3,566.7 305.7,566.5 304.1,566.3 302.5,566.3 301.0,566.3 299.5,566.3 297.9,566.5 296.5,566.7 295.0,567.0 293.6,567.4 292.2,567.8 290.9,568.3 289.5,568.9 288.3,569.5 261.3,586.9 260.0,587.6 258.8,588.3 257.7,589.2 256.6,590.1 255.5,591.1 254.5,592.1 253.5,593.2 252.6,594.4 251.7,595.6 250.8,596.9 250.0,598.3 249.3,599.7 248.6,601.2 248.0,602.7 247.4,604.3 246.8,605.9 246.3,607.6 245.9,609.3 245.5,611.1 245.2,612.9 244.9,614.8 244.7,616.7 244.5,618.7 244.4,620.7 244.3,622.7 244.3,624.8 244.3,626.9 244.4,629.0 244.6,631.2 244.8,633.3 245.0,635.5 245.4,637.8 245.7,640.0 246.1,642.3 246.6,644.6 247.1,646.9 247.7,649.2 248.3,651.5 249.0,653.8 249.7,656.1 250.5,658.5 251.3,660.8 252.2,663.1 253.1,665.4 254.1,667.8 255.1,670.1 256.1,672.3 257.2,674.6 258.4,676.9 259.6,679.1 260.8,681.3 262.0,683.5 263.3,685.7 264.6,687.8 266.0,689.9 267.4,692.0 268.8,694.1 270.3,696.1 271.7,698.1 273.3,700.0 274.8,701.9 276.3,703.7 277.9,705.5 279.5,707.3 281.2,709.0 282.8,710.7 284.5,712.3 286.1,713.8 287.8,715.3 289.5,716.7 291.2,718.1 292.9,719.4 294.6,720.7 296.4,721.9 298.1,723.0 299.8,724.1 301.5,725.1 303.3,726.0 305.0,726.9 306.7,727.7 308.4,728.5 310.1,729.1 311.8,729.7 313.5,730.2 315.1,730.7 316.8,731.1 318.4,731.4 320.0,731.6 321.6,731.8 323.2,731.9 324.7,731.9 326.3,731.8 327.8,731.7 329.2,731.5 330.7,731.2 332.1,730.9 333.4,730.4 334.8,729.9 336.1,729.4 337.3,728.7" fill="#fbfdfb" stroke="#000" stroke-width="2.28" stroke-linejoin="round" />
<polygon points="269.2,578.6 267.7,578.9 266.1,579.2 264.6,579.6 263.2,580.0 302.0,566.3 301.2,562.3 302.9,562.3 304.5,562.4 306.2,562.6 307.9,562.8 308.2,566.8" fill="#fbfdfb" stroke="#000" stroke-width="2.28" stroke-linejoin="round" />
<polygon points="277.8,578.5 276.1,578.4 274.4,578.3 272.8,578.3 271.2,578.4 310.2,567.2 310.1,563.2 311.8,563.6 313.6,564.0 315.3,564.6 317.1,565.2 316.8,569.2" fill="#fbfdfb" stroke="#000" stroke-width="2.28" stroke-linejoin="round" />
<polygon points="286.8,580.3 285.1,579.8 283.3,579.4 281.6,579.1 279.9,578.8 318.9,570.0 319.3,566.0 321.1,566.8 322.9,567.6 324.7,568.5 326.5,569.4 325.6,573.3" fill="#fbfdfb" stroke="#000" stroke-width="2.28" stroke-linejoin="round" />
<polygon points="296.2,584.1 294.4,583.2 292.6,582.4 290.8,581.7 289.1,581.1 327.7,574.5 328.8,570.7 330.6,571.8 332.4,572.9 334.2,574.2 336.0,575.4 334.4,579.1" fill="#fbfdfb" stroke="#000" stroke-width="2.28" stroke-linejoin="round" />
<polygon points="305.7,589.6 303.9,588.4 302.1,587.3 300.3,586.2 298.5,585.2 336.5,580.8 338.2,577.1 340.0,578.5 341.7,580.0 343.5,581.5 345.2,583.1 343.1,586.5" fill="#fbfdfb" stroke="#000" stroke-width="2.28" stroke-linejoin="round" />
<polygon points="315.0,596.8 313.2,595.3 311.5,593.9 309.7,592.5 307.9,591.2 345.1,588.5 347.3,585.1 349.0,586.8 350.7,588.6 352.3,590.4 354.0,592.2 351.4,595.2" fill="#fbfdfb" stroke="#000" stroke-width="2.28" stroke-linejoin="round" />
<polygon points="323.9,605.6 322.3,603.8 320.6,602.1 318.9,600.4 317.2,598.8 353.3,597.5 356.0,594.6 357.5,596.5 359.1,598.5 360.6,600.5 362.1,602.5 359.0,605.1" fill="#fbfdfb" stroke="#000" stroke-width="2.28" stroke-linejoin="round" />
<polygon points="332.2,615.6 330.7,613.6 329.2,611.6 327.6,609.7 326.0,607.9 360.8,607.6 363.9,605.1 365.3,607.3 366.7,609.4 368.0,611.6 369.3,613.8 365.9,615.9" fill="#fbfdfb" stroke="#000" stroke-width="2.28" stroke-linejoin="round" />
<polygon points="339.7,626.6 338.4,624.5 337.0,622.3 335.6,620.2 334.1,618.1 367.4,618.6 370.9,616.6 372.1,618.9 373.3,621.2 374.4,623.5 375.5,625.8 371.8,627.3" fill="#fbfdfb" stroke="#000" stroke-width="2.28" stroke-linejoin="round" />
<polygon points="346.2,638.5 345.1,636.2 343.9,633.9 342.7,631.6 341.4,629.4 373.1,630.1 376.9,628.7 377.8,631.1 378.8,633.4 379.7,635.8 380.5,638.2 376.7,639.1" fill="#fbfdfb" stroke="#000" stroke-width="2.28" stroke-linejoin="round" />
<polygon points="351.6,650.7 350.7,648.4 349.7,646.0 348.7,643.7 347.6,641.4 377.6,641.9 381.6,641.1 382.3,643.5 383.0,645.9 383.6,648.3 384.2,650.6 380.3,650.9" fill="#fbfdfb" stroke="#000" stroke-width="2.28" stroke-linejoin="round" />
<polygon points="355.7,663.2 355.0,660.9 354.3,658.5 353.5,656.1 352.7,653.7 380.9,653.7 384.9,653.6 385.4,655.9 385.8,658.3 386.2,660.6 386.5,662.9 382.5,662.5" fill="#fbfdfb" stroke="#000" stroke-width="2.28" stroke-linejoin="round" />
<polygon points="358.3,675.6 357.9,673.2 357.5,670.9 357.0,668.6 356.4,666.2 382.9,665.3 386.9,665.7 387.1,668.0 387.2,670.2 387.3,672.4 387.3,674.6 383.5,673.6" fill="#fbfdfb" stroke="#000" stroke-width="2.28" stroke-linejoin="round" />
<polygon points="359.6,687.5 359.4,685.2 359.3,683.0 359.0,680.7 358.8,678.5 383.5,676.2 387.3,677.3 387.2,679.4 387.1,681.5 386.9,683.5 386.7,685.5 383.0,684.0" fill="#fbfdfb" stroke="#000" stroke-width="2.28" stroke-linejoin="round" />
<polygon points="359.3,698.6 359.5,696.6 359.6,694.5 359.6,692.4 359.6,690.2 382.7,686.3 386.3,688.0 385.9,689.9 385.5,691.8 385.1,693.6 384.5,695.4 381.1,693.3" fill="#fbfdfb" stroke="#000" stroke-width="2.28" stroke-linejoin="round" />
<polygon points="357.6,708.8 358.0,706.9 358.4,705.1 358.7,703.1 359.0,701.2 380.5,695.3 383.8,697.5 383.2,699.2 382.5,700.8 381.8,702.4 381.0,703.9 378.0,701.3" fill="#fbfdfb" stroke="#000" stroke-width="2.28" stroke-linejoin="round" />
<polygon points="354.4,717.7 355.1,716.1 355.8,714.5 356.4,712.8 356.9,711.1 377.0,703.0 379.9,705.7 379.0,707.1 378.1,708.4 377.1,709.7 376.1,710.9 373.5,707.8" fill="#fbfdfb" stroke="#000" stroke-width="2.28" stroke-linejoin="round" />
<polygon points="349.9,725.1 350.8,723.8 351.7,722.5 352.6,721.1 353.4,719.6 372.3,709.2 374.8,712.3 373.6,713.4 372.5,714.4 371.3,715.3 370.0,716.2 367.9,712.8" fill="#fbfdfb" stroke="#000" stroke-width="2.28" stroke-linejoin="round" />
<polygon points="287.8,584.1 287.2,583.9 286.6,583.7 286.1,582.7 285.6,581.1 285.0,579.8 284.4,579.7 283.8,579.5 283.2,579.4 282.7,580.1 282.2,581.4 281.7,582.4 281.1,582.3 280.6,582.2 280.0,582.1 279.4,581.3 278.7,579.7 278.0,578.5 277.5,578.5 276.9,578.4 276.3,578.4 275.9,579.2 275.6,580.6 275.3,581.7 274.7,581.7 274.2,581.7 273.7,581.7 273.0,580.9 272.2,579.5 271.4,578.4 270.8,578.5 270.3,578.5 269.8,578.6 269.5,579.4 269.4,580.9 269.2,582.0 268.7,582.1 268.2,582.2 267.7,582.3 267.0,581.7 266.0,580.4 265.1,579.5 264.6,579.6 264.1,579.7 263.7,579.9 263.5,580.8 263.6,582.3 263.6,583.5 263.1,583.7 262.7,583.9 262.2,584.0 261.5,583.5 260.4,582.4 259.4,581.6 258.9,581.9 258.5,582.1 258.0,582.3 258.0,583.3 258.3,584.8 258.5,586.1 258.1,586.3 257.7,586.6 257.3,586.9 256.5,586.5 255.3,585.6 254.2,584.9 253.8,585.2 253.4,585.6 253.0,585.9 253.1,586.9 253.6,588.4 254.0,589.7 253.6,590.0 253.3,590.4 252.9,590.7 252.1,590.5 250.8,589.7 249.7,589.3 249.4,589.7 249.0,590.1 248.7,590.5 248.9,591.5 249.6,593.0 250.1,594.2 249.8,594.7 249.6,595.1 249.3,595.5 248.4,595.4 247.1,594.9 245.9,594.6 245.7,595.1 245.4,595.6 245.1,596.1 245.5,597.1 246.3,598.5 247.0,599.8 246.8,600.3 246.6,600.8 246.3,601.3 245.5,601.3 244.1,601.0 242.9,600.9 242.7,601.4 242.5,602.0 242.3,602.6 242.8,603.6 243.8,605.0 244.6,606.1 244.5,606.7 244.3,607.3 244.2,607.8 243.3,608.0 241.9,607.9 240.8,608.0 240.6,608.6 240.5,609.2 240.3,609.9 240.9,610.9 242.1,612.1 243.1,613.2 243.0,613.9 242.9,614.5 242.8,615.1 242.0,615.5 240.6,615.6 239.4,615.8 239.4,616.5 239.3,617.2 239.2,617.9 239.9,618.8 241.3,620.0 242.3,621.0 242.3,621.7 242.3,622.4 242.3,623.0 241.5,623.5 240.1,623.8 239.0,624.3 239.0,625.0 239.0,625.7 239.0,626.4 239.8,627.3 241.2,628.4 242.4,629.3 242.5,630.0 242.5,630.7 242.6,631.5 241.8,632.1 240.5,632.6 239.4,633.2 239.5,633.9 239.5,634.7 239.6,635.5 240.5,636.3 242.1,637.2 243.3,638.0 243.4,638.8 243.6,639.5 243.7,640.3 243.0,641.0 241.7,641.7 240.7,642.5 240.8,643.3 241.0,644.0 241.1,644.8 242.1,645.6 243.7,646.3 245.1,647.0 245.2,647.8 245.4,648.6 245.6,649.3 245.0,650.1 243.8,651.1 242.8,652.0 243.1,652.8 243.3,653.6 243.5,654.4 244.5,655.1 246.2,655.6 247.6,656.2 247.8,657.0 248.1,657.7 248.3,658.5 247.8,659.4 246.6,660.5 245.8,661.6 246.1,662.4 246.4,663.2 246.7,664.0 247.7,664.6 249.5,664.9 250.8,665.4 251.2,666.1 251.5,666.9 251.8,667.7 251.4,668.7 250.3,669.9 249.6,671.1 249.9,671.9 250.3,672.7 250.6,673.5 251.7,674.0 253.4,674.2 254.8,674.5 255.2,675.2 255.6,675.9 255.9,676.7 255.6,677.8 254.7,679.2 254.0,680.5 254.5,681.2 254.9,682.0 255.3,682.8 256.4,683.1 258.1,683.1 259.5,683.3 259.9,684.0 260.3,684.7 260.7,685.4 260.5,686.6 259.7,688.1 259.2,689.5 259.6,690.2 260.1,690.9 260.6,691.7 261.7,691.9 263.3,691.8 264.7,691.8 265.1,692.4 265.6,693.1 266.1,693.8 265.9,695.0 265.3,696.6 264.9,698.0 265.4,698.7 265.9,699.4 266.4,700.1 267.5,700.2 269.1,699.9 270.4,699.7 270.9,700.4 271.4,701.0 271.9,701.6 271.9,702.8 271.4,704.5 271.1,706.0 271.7,706.6 272.2,707.3 272.8,707.9 273.8,707.9 275.3,707.4 276.5,707.1 277.1,707.7 277.6,708.2 278.1,708.8 278.2,710.0 277.9,711.8 277.8,713.3 278.3,713.8 278.9,714.4 279.5,715.0 280.5,714.9 281.8,714.2 283.0,713.7 283.6,714.2 284.1,714.7 284.7,715.2 284.8,716.4 284.7,718.2 284.7,719.7 285.3,720.2 285.9,720.7 286.5,721.2 287.4,721.0 288.7,720.1 289.7,719.5 290.3,720.0 290.8,720.4 291.4,720.9 291.7,722.0 291.7,723.8 291.9,725.3 292.5,725.7 293.1,726.1 293.7,726.5 294.6,726.2 295.6,725.2 296.6,724.5 297.1,724.8 297.7,725.2 298.3,725.5 298.6,726.6 298.8,728.4 299.2,729.8 299.8,730.2 300.4,730.5 301.0,730.8 301.8,730.4 302.6,729.2 303.4,728.4 304.0,728.7 304.6,729.0 305.2,729.2 305.6,730.3 306.0,732.0 306.4,733.4 307.0,733.6 307.6,733.8 308.2,734.1 308.9,733.5 309.6,732.3 310.3,731.3 310.8,731.5 311.4,731.7 312.0,731.9 312.5,732.9 313.0,734.5 313.6,735.8 314.2,735.9 314.8,736.1 315.4,736.2 315.9,735.5 316.4,734.2 316.9,733.2 317.5,733.3 318.0,733.4 318.6,733.5 319.2,734.3 319.9,735.9 320.6,737.1 321.1,737.1 321.7,737.2 322.3,737.2 322.7,736.4 323.0,735.0 323.3,733.9 323.9,733.9 324.4,733.9 324.9,733.9 325.6,734.7 326.4,736.1 327.2,737.2 327.8,737.1 328.3,737.1 328.8,737.0 329.1,736.2 329.2,734.7 329.4,733.6 329.9,733.5 330.4,733.4 330.9,733.3 331.6,733.9 332.6,735.2 333.5,736.1 334.0,736.0 334.5,735.9 334.9,735.7 335.1,734.8 335.0,733.3 335.0,732.1 335.5,731.9 335.9,731.7 336.4,731.6 337.1,732.1 338.2,733.2 339.2,734.0 339.7,733.7 340.1,733.5 340.6,733.3 340.6,732.3 340.3,730.8 340.1,729.5 340.0,728.4 340.4,728.1 340.8,727.9 341.1,727.6 341.5,727.3 341.9,727.0 342.3,726.7 342.6,726.4 343.0,726.1 343.3,725.8 343.7,725.5 344.0,725.1 344.3,724.8 344.7,724.5 345.0,724.1 345.3,723.7 345.7,723.4 346.0,723.0 346.3,722.6 346.6,722.2 346.9,721.8 347.2,721.4 347.5,721.0 347.8,720.6 348.0,720.2 348.3,719.8 348.6,719.4 348.9,718.9 349.1,718.5 349.4,718.0 349.6,717.6 349.9,717.1 350.1,716.6 350.3,716.2 350.6,715.7 350.8,715.2 351.0,714.7 351.2,714.2 351.4,713.7 351.7,713.2 351.9,712.7 352.0,712.2 352.2,711.6 352.4,711.1 352.6,710.6 352.8,710.0 352.9,709.5 353.1,708.9 353.3,708.4 353.4,707.8 353.5,707.3 353.7,706.7 353.8,706.1 353.9,705.5 354.1,704.9 354.2,704.3 354.3,703.8 354.4,703.2 354.5,702.5 354.6,701.9 354.7,701.3 354.8,700.7 354.9,700.1 354.9,699.5 355.0,698.8 355.1,698.2 355.1,697.5 355.2,696.9 355.2,696.3 355.2,695.6 355.3,694.9 355.3,694.3 355.3,693.6 355.3,693.0 355.4,692.3 355.4,691.6 355.4,690.9 355.4,690.3 355.3,689.6 355.3,688.9 355.3,688.2 355.3,687.5 355.2,686.8 355.2,686.1 355.1,685.4 355.1,684.7 355.0,684.0 355.0,683.3 354.9,682.6 354.8,681.8 354.7,681.1 354.7,680.4 354.6,679.7 354.5,679.0 354.4,678.2 354.3,677.5 354.1,676.8 354.0,676.0 353.9,675.3 353.8,674.6 353.6,673.8 353.5,673.1 353.3,672.4 353.2,671.6 353.0,670.9 352.9,670.1 352.7,669.4 352.5,668.6 352.3,667.9 352.2,667.1 352.0,666.4 351.8,665.6 351.6,664.9 351.4,664.1 351.2,663.4 350.9,662.6 350.7,661.9 350.5,661.1 350.3,660.3 350.0,659.6 349.8,658.8 349.5,658.1 349.3,657.3 349.0,656.6 348.8,655.8 348.5,655.0 348.2,654.3 347.9,653.5 347.7,652.8 347.4,652.0 347.1,651.3 346.8,650.5 346.5,649.8 346.2,649.0 345.9,648.3 345.5,647.5 345.2,646.8 344.9,646.0 344.6,645.3 344.2,644.5 343.9,643.8 343.5,643.0 343.2,642.3 342.8,641.6 342.5,640.8 342.1,640.1 341.7,639.3 341.4,638.6 341.0,637.9 340.6,637.2 340.2,636.4 339.9,635.7 339.5,635.0 339.1,634.3 338.7,633.5 338.3,632.8 337.9,632.1 337.4,631.4 337.0,630.7 336.6,630.0 336.2,629.3 335.8,628.6 335.3,627.9 334.9,627.2 334.5,626.5 334.0,625.8 333.6,625.2 333.1,624.5 332.7,623.8 332.2,623.1 331.8,622.5 331.3,621.8 330.8,621.1 330.4,620.5 329.9,619.8 329.4,619.2 328.9,618.5 328.5,617.9 328.0,617.2 327.5,616.6 327.0,616.0 326.5,615.3 326.0,614.7 325.5,614.1 325.0,613.5 324.5,612.9 324.0,612.3 323.5,611.7 323.0,611.1 322.5,610.5 322.0,609.9 321.4,609.3 320.9,608.7 320.4,608.2 319.9,607.6 319.3,607.1 318.8,606.5 318.3,605.9 317.8,605.4 317.2,604.9 316.7,604.3 316.1,603.8 315.6,603.3 315.1,602.8 314.5,602.2 314.0,601.7 313.4,601.2 312.9,600.7 312.3,600.3 311.8,599.8 311.2,599.3 310.7,598.8 310.1,598.4 309.6,597.9 309.0,597.4 308.5,597.0 307.9,596.6 307.4,596.1 306.8,595.7 306.2,595.3 305.7,594.9 305.1,594.4 304.5,594.0 304.0,593.6 303.4,593.2 302.9,592.9 302.3,592.5 301.7,592.1 301.2,591.8 300.6,591.4 300.0,591.0 299.5,590.7 298.9,590.4 298.3,590.0 297.8,589.7 297.2,589.4 296.7,589.1 296.1,588.8 295.5,588.5 295.0,588.2 294.4,587.9 293.8,587.6 293.3,587.4 292.7,587.1 292.2,586.9 291.6,586.6 291.0,586.4 290.5,586.1 289.9,585.9 289.4,585.7 288.8,585.5 288.3,585.3 287.7,585.1" fill="#fbfdfb" stroke="none" stroke-width="0.00" stroke-linejoin="round" />
<polyline points="287.8,584.1 287.2,583.9 286.6,583.7 286.1,582.7 285.6,581.1 285.0,579.8 284.4,579.7 283.8,579.5 283.2,579.4 282.7,580.1 282.2,581.4 281.7,582.4 281.1,582.3 280.6,582.2 280.0,582.1 279.4,581.3 278.7,579.7 278.0,578.5 277.5,578.5 276.9,578.4 276.3,578.4 275.9,579.2 275.6,580.6 275.3,581.7 274.7,581.7 274.2,581.7 273.7,581.7 273.0,580.9 272.2,579.5 271.4,578.4 270.8,578.5 270.3,578.5 269.8,578.6 269.5,579.4 269.4,580.9 269.2,582.0 268.7,582.1 268.2,582.2 267.7,582.3 267.0,581.7 266.0,580.4 265.1,579.5 264.6,579.6 264.1,579.7 263.7,579.9 263.5,580.8 263.6,582.3 263.6,583.5 263.1,583.7 262.7,583.9 262.2,584.0 261.5,583.5 260.4,582.4 259.4,581.6 258.9,581.9 258.5,582.1 258.0,582.3 258.0,583.3 258.3,584.8 258.5,586.1 258.1,586.3 257.7,586.6 257.3,586.9 256.5,586.5 255.3,585.6 254.2,584.9 253.8,585.2 253.4,585.6 253.0,585.9 253.1,586.9 253.6,588.4 254.0,589.7 253.6,590.0 253.3,590.4 252.9,590.7 252.1,590.5 250.8,589.7 249.7,589.3 249.4,589.7 249.0,590.1 248.7,590.5 248.9,591.5 249.6,593.0 250.1,594.2 249.8,594.7 249.6,595.1 249.3,595.5 248.4,595.4 247.1,594.9 245.9,594.6 245.7,595.1 245.4,595.6 245.1,596.1 245.5,597.1 246.3,598.5 247.0,599.8 246.8,600.3 246.6,600.8 246.3,601.3 245.5,601.3 244.1,601.0 242.9,600.9 242.7,601.4 242.5,602.0 242.3,602.6 242.8,603.6 243.8,605.0 244.6,606.1 244.5,606.7 244.3,607.3 244.2,607.8 243.3,608.0 241.9,607.9 240.8,608.0 240.6,608.6 240.5,609.2 240.3,609.9 240.9,610.9 242.1,612.1 243.1,613.2 243.0,613.9 242.9,614.5 242.8,615.1 242.0,615.5 240.6,615.6 239.4,615.8 239.4,616.5 239.3,617.2 239.2,617.9 239.9,618.8 241.3,620.0 242.3,621.0 242.3,621.7 242.3,622.4 242.3,623.0 241.5,623.5 240.1,623.8 239.0,624.3 239.0,625.0 239.0,625.7 239.0,626.4 239.8,627.3 241.2,628.4 242.4,629.3 242.5,630.0 242.5,630.7 242.6,631.5 241.8,632.1 240.5,632.6 239.4,633.2 239.5,633.9 239.5,634.7 239.6,635.5 240.5,636.3 242.1,637.2 243.3,638.0 243.4,638.8 243.6,639.5 243.7,640.3 243.0,641.0 241.7,641.7 240.7,642.5 240.8,643.3 241.0,644.0 241.1,644.8 242.1,645.6 243.7,646.3 245.1,647.0 245.2,647.8 245.4,648.6 245.6,649.3 245.0,650.1 243.8,651.1 242.8,652.0 243.1,652.8 243.3,653.6 243.5,654.4 244.5,655.1 246.2,655.6 247.6,656.2 247.8,657.0 248.1,657.7 248.3,658.5 247.8,659.4 246.6,660.5 245.8,661.6 246.1,662.4 246.4,663.2 246.7,664.0 247.7,664.6 249.5,664.9 250.8,665.4 251.2,666.1 251.5,666.9 251.8,667.7 251.4,668.7 250.3,669.9 249.6,671.1 249.9,671.9 250.3,672.7 250.6,673.5 251.7,674.0 253.4,674.2 254.8,674.5 255.2,675.2 255.6,675.9 255.9,676.7 255.6,677.8 254.7,679.2 254.0,680.5 254.5,681.2 254.9,682.0 255.3,682.8 256.4,683.1 258.1,683.1 259.5,683.3 259.9,684.0 260.3,684.7 260.7,685.4 260.5,686.6 259.7,688.1 259.2,689.5 259.6,690.2 260.1,690.9 260.6,691.7 261.7,691.9 263.3,691.8 264.7,691.8 265.1,692.4 265.6,693.1 266.1,693.8 265.9,695.0 265.3,696.6 264.9,698.0 265.4,698.7 265.9,699.4 266.4,700.1 267.5,700.2 269.1,699.9 270.4,699.7 270.9,700.4 271.4,701.0 271.9,701.6 271.9,702.8 271.4,704.5 271.1,706.0 271.7,706.6 272.2,707.3 272.8,707.9 273.8,707.9 275.3,707.4 276.5,707.1 277.1,707.7 277.6,708.2 278.1,708.8 278.2,710.0 277.9,711.8 277.8,713.3 278.3,713.8 278.9,714.4 279.5,715.0 280.5,714.9 281.8,714.2 283.0,713.7 283.6,714.2 284.1,714.7 284.7,715.2 284.8,716.4 284.7,718.2 284.7,719.7 285.3,720.2 285.9,720.7 286.5,721.2 287.4,721.0 288.7,720.1 289.7,719.5 290.3,720.0 290.8,720.4 291.4,720.9 291.7,722.0 291.7,723.8 291.9,725.3 292.5,725.7 293.1,726.1 293.7,726.5 294.6,726.2 295.6,725.2 296.6,724.5 297.1,724.8 297.7,725.2 298.3,725.5 298.6,726.6 298.8,728.4 299.2,729.8 299.8,730.2 300.4,730.5 301.0,730.8 301.8,730.4 302.6,729.2 303.4,728.4 304.0,728.7 304.6,729.0 305.2,729.2 305.6,730.3 306.0,732.0 306.4,733.4 307.0,733.6 307.6,733.8 308.2,734.1 308.9,733.5 309.6,732.3 310.3,731.3 310.8,731.5 311.4,731.7 312.0,731.9 312.5,732.9 313.0,734.5 313.6,735.8 314.2,735.9 314.8,736.1 315.4,736.2 315.9,735.5 316.4,734.2 316.9,733.2 317.5,733.3 318.0,733.4 318.6,733.5 319.2,734.3 319.9,735.9 320.6,737.1 321.1,737.1 321.7,737.2 322.3,737.2 322.7,736.4 323.0,735.0 323.3,733.9 323.9,733.9 324.4,733.9 324.9,733.9 325.6,734.7 326.4,736.1 327.2,737.2 327.8,737.1 328.3,737.1 328.8,737.0 329.1,736.2 329.2,734.7 329.4,733.6 329.9,733.5 330.4,733.4 330.9,733.3 331.6,733.9 332.6,735.2 333.5,736.1 334.0,736.0 334.5,735.9 334.9,735.7 335.1,734.8 335.0,733.3 335.0,732.1 335.5,731.9 335.9,731.7 336.4,731.6 337.1,732.1 338.2,733.2 339.2,734.0 339.7,733.7 340.1,733.5 340.6,733.3 340.6,732.3 340.3,730.8 340.1,729.5" fill="none" stroke="#000" stroke-width="1.92" stroke-linejoin="round"/>
<ellipse cx="301.2" cy="657.4" rx="70.6" ry="42.5" transform="rotate(59.1 301.2 657.4)" fill="none" stroke="#000" stroke-width="1.80" />
<polyline points="276.3,597.8 275.2,598.9 274.1,600.0 273.2,601.3 272.2,602.6 271.4,604.0 270.6,605.5 269.8,607.0 269.2,608.6 268.5,610.3 268.0,612.0 267.5,613.8 267.1,615.6 266.7,617.5 266.5,619.5 266.2,621.5 266.1,623.5 266.0,625.6 266.0,627.7 266.1,629.9 266.2,632.1 266.4,634.3 266.6,636.6 267.0,638.9 267.4,641.2 267.8,643.5 268.4,645.8 268.9,648.2 269.6,650.5 270.3,652.9 271.1,655.2 271.9,657.6 272.9,659.9 273.8,662.2 274.8,664.6 275.9,666.9 277.0,669.2 278.2,671.4 279.5,673.7 280.7,675.9 282.1,678.1 283.4,680.2 284.9,682.3 286.3,684.4 287.8,686.4 289.4,688.4 290.9,690.3 292.5,692.2 294.2,694.0 295.8,695.8 297.5,697.5 299.2,699.1 301.0,700.7 302.7,702.2 304.5,703.6 306.3,705.0 308.1,706.3 309.9,707.5 311.7,708.6 313.5,709.7 315.3,710.7 317.1,711.6 318.9,712.4 320.7,713.1 322.5,713.8 324.3,714.3 326.0,714.8 327.8,715.2 329.5,715.5 331.2,715.7 332.9,715.9" fill="none" stroke="#000" stroke-width="2.16" stroke-linecap="round" />
<ellipse cx="313.0" cy="655.0" rx="36.0" ry="22.0" transform="rotate(62.0 313.0 655.0)" fill="none" stroke="#000" stroke-width="1.80" />
<ellipse cx="314.0" cy="655.0" rx="32.0" ry="19.5" transform="rotate(62.0 314.0 655.0)" fill="none" stroke="#000" stroke-width="1.44" />
<ellipse cx="316.0" cy="653.0" rx="27.0" ry="16.0" transform="rotate(62.0 316.0 653.0)" fill="none" stroke="#000" stroke-width="1.92" />
<line x1="230.0" y1="700.2" x2="314.0" y2="652.0" stroke="#fbfdfb" stroke-width="7.5"/>
<line x1="230.0" y1="700.2" x2="314.0" y2="652.0" stroke="#000" stroke-width="1.80" stroke-linecap="butt"/>
<polygon points="207.5,681.5 205.8,681.3 204.2,681.2 202.7,681.3 201.2,681.7 199.8,682.2 198.5,682.9 197.3,683.8 196.2,684.9 195.2,686.1 194.4,687.5 193.7,689.0 193.1,690.7 192.6,692.6 192.3,694.5 192.2,696.6 192.1,698.7 192.3,700.9 192.5,703.2 193.0,705.5 193.5,707.9 194.2,710.2 195.0,712.6 195.9,714.9 197.0,717.3 198.2,719.5 199.4,721.7 200.8,723.9 202.3,725.9 203.8,727.8 205.4,729.6 207.0,731.3 208.7,732.8 210.4,734.2 212.2,735.4 213.9,736.4 215.7,737.3 217.4,737.9 219.1,738.4 220.8,738.7 222.4,738.8 224.0,738.7 225.5,738.4 226.9,737.9 228.2,737.3 229.4,736.4 230.5,735.4 231.5,734.1 232.4,732.8 233.1,731.2 233.7,729.6 234.2,727.8 234.6,725.9 234.7,723.8 234.8,721.7 234.7,719.5 234.4,717.2 234.1,714.9 233.5,712.6 232.9,710.2 232.1,707.8 231.2,705.5 230.1,703.2 229.0,700.9 227.7,698.7 226.4,696.5 224.9,694.5 223.4,692.5 221.8,690.7 220.2,689.0 218.5,687.5 217.7,691.1 219.4,692.7 221.0,694.4 222.6,696.4 224.1,698.4 225.5,700.6 226.7,702.8 227.8,705.1 228.8,707.5 229.7,709.9 230.3,712.3 230.8,714.7 231.2,717.0 231.3,719.2 231.3,721.4 231.1,723.5 230.8,725.4 230.2,727.2 229.5,728.8 228.7,730.2 227.7,731.4 226.5,732.4 225.2,733.2 223.8,733.7 222.3,734.1 220.8,734.2 219.1,734.0 217.4,733.6 215.6,733.0 213.9,732.1 212.1,731.1 210.3,729.8 208.6,728.3 206.9,726.7 205.3,724.9 203.8,722.9 202.3,720.8 201.0,718.6 199.8,716.4 198.7,714.0 197.8,711.6 197.0,709.2 196.4,706.8 195.9,704.5 195.7,702.2 195.6,700.0 195.7,697.8 195.9,695.8 196.3,693.9 196.9,692.2 197.7,690.7 198.6,689.4 199.7,688.2 200.9,687.3 202.2,686.6 203.6,686.1 205.2,685.9 206.8,685.9 208.4,686.1" fill="#fbfdfb" stroke="#000" stroke-width="2.88" stroke-linejoin="round" />
<polygon points="204.0,683.5 202.4,683.3 200.7,683.2 199.2,683.3 197.7,683.7 196.3,684.2 195.0,684.9 193.8,685.8 192.7,686.9 191.8,688.1 190.9,689.5 190.2,691.0 189.6,692.7 189.2,694.6 188.9,696.5 188.7,698.6 188.7,700.7 188.8,702.9 189.1,705.2 189.5,707.5 190.0,709.9 190.7,712.2 191.5,714.6 192.5,716.9 193.5,719.3 194.7,721.5 196.0,723.7 197.3,725.9 198.8,727.9 200.3,729.8 201.9,731.6 203.6,733.3 205.3,734.8 207.0,736.2 208.7,737.4 210.5,738.4 212.2,739.3 214.0,739.9 215.7,740.4 217.3,740.7 219.0,740.8 220.5,740.7 222.0,740.4 223.4,739.9 224.7,739.3 226.0,738.4 227.1,737.4 228.1,736.1 228.9,734.8 229.7,733.2 230.3,731.6 230.8,729.8 231.1,727.9 231.3,725.8 231.3,723.7 231.2,721.5 231.0,719.2 230.6,716.9 230.1,714.6 229.4,712.2 228.6,709.8 227.7,707.5 226.7,705.2 225.5,702.9 224.3,700.7 222.9,698.5 221.5,696.5 220.0,694.5 218.4,692.7 216.7,691.0 215.1,689.5 214.2,693.1 215.9,694.7 217.6,696.4 219.1,698.4 220.6,700.4 222.0,702.6 223.3,704.8 224.4,707.1 225.4,709.5 226.2,711.9 226.9,714.3 227.4,716.7 227.7,719.0 227.9,721.2 227.9,723.4 227.7,725.5 227.3,727.4 226.8,729.2 226.1,730.8 225.2,732.2 224.2,733.4 223.0,734.4 221.8,735.2 220.4,735.7 218.9,736.1 217.3,736.2 215.6,736.0 213.9,735.6 212.2,735.0 210.4,734.1 208.6,733.1 206.9,731.8 205.1,730.3 203.5,728.7 201.8,726.9 200.3,724.9 198.9,722.8 197.5,720.6 196.3,718.4 195.2,716.0 194.3,713.6 193.5,711.2 192.9,708.8 192.5,706.5 192.2,704.2 192.1,702.0 192.2,699.8 192.5,697.8 192.9,695.9 193.5,694.2 194.2,692.7 195.2,691.4 196.2,690.2 197.4,689.3 198.7,688.6 200.2,688.1 201.7,687.9 203.3,687.9 205.0,688.1" fill="#fbfdfb" stroke="#000" stroke-width="2.88" stroke-linejoin="round" />
<ellipse cx="203.4" cy="685.6" rx="4.8" ry="3.8" transform="rotate(60.0 203.4 685.6)" fill="#fbfdfb" stroke="#000" stroke-width="2.88" />
<ellipse cx="203.4" cy="685.6" rx="1.5" ry="1.2" transform="rotate(60.0 203.4 685.6)" fill="none" stroke="#000" stroke-width="1.44" />
<ellipse cx="215.8" cy="692.3" rx="4.8" ry="3.8" transform="rotate(60.0 215.8 692.3)" fill="#fbfdfb" stroke="#000" stroke-width="2.88" />
<ellipse cx="215.8" cy="692.3" rx="1.5" ry="1.2" transform="rotate(60.0 215.8 692.3)" fill="none" stroke="#000" stroke-width="1.44" />
<line x1="167.0" y1="735.4" x2="204.6" y2="715.3" stroke="#fbfdfb" stroke-width="7.5"/>
<line x1="167.0" y1="735.4" x2="204.6" y2="715.3" stroke="#000" stroke-width="1.80" stroke-linecap="butt"/>
<polygon points="161.4,781.2 162.7,780.4 163.9,779.4 165.1,778.3 166.1,777.0 167.0,775.5 167.8,773.9 168.5,772.2 169.0,770.4 169.5,768.5 169.7,766.4 169.9,764.3 169.9,762.1 169.8,759.8 169.5,757.5 169.1,755.1 168.6,752.7 167.9,750.3 167.2,747.8 166.3,745.4 165.2,743.0 164.1,740.7 162.9,738.4 161.6,736.1 160.2,733.9 158.7,731.8 157.1,729.8 155.4,728.0 153.7,726.2 152.0,724.5 150.2,723.0 148.4,721.6 146.5,720.4 144.7,719.3 142.8,718.4 141.0,717.7 139.2,717.1 137.4,716.7 135.6,716.5 133.9,716.4 132.3,716.6 130.7,716.9 129.2,717.3 127.8,718.0 116.5,724.5 115.2,725.3 113.9,726.3 112.8,727.4 111.7,728.7 110.8,730.2 110.0,731.8 109.4,733.5 108.8,735.3 108.4,737.2 108.1,739.3 108.0,741.4 108.0,743.6 108.1,745.9 108.4,748.2 108.7,750.6 109.3,753.0 109.9,755.4 110.7,757.9 111.6,760.3 112.6,762.7 113.7,765.0 115.0,767.3 116.3,769.6 117.7,771.8 119.2,773.9 120.8,775.9 122.4,777.7 124.1,779.5 125.9,781.2 127.7,782.7 129.5,784.1 131.3,785.3 133.2,786.4 135.0,787.3 136.9,788.0 138.7,788.6 140.5,789.0 142.2,789.2 143.9,789.3 145.6,789.1 147.2,788.8 148.7,788.4 150.1,787.7" fill="#fbfdfb" stroke="#000" stroke-width="2.64" stroke-linejoin="round" />
<polyline points="158.4,782.6 159.5,781.4 160.5,780.1 161.4,778.7 162.2,777.1 162.9,775.4 163.4,773.6 163.8,771.6 164.1,769.6 164.3,767.5 164.3,765.3 164.1,763.0 163.9,760.7 163.5,758.3 162.9,755.9 162.3,753.5 161.5,751.1 160.6,748.7 159.6,746.3 158.5,743.9 157.3,741.6 155.9,739.4 154.5,737.2 153.0,735.1 151.5,733.1 149.8,731.2 148.1,729.5 146.4,727.8 144.6,726.3 142.8,724.9 141.0,723.7 139.1,722.6 137.3,721.7 135.4,720.9 133.6,720.4 131.8,720.0 130.1,719.7 128.4,719.7 126.7,719.8 125.1,720.1" fill="none" stroke="#000" stroke-width="1.08" stroke-linecap="round" />
<ellipse cx="133.3" cy="756.1" rx="35.8" ry="21.5" transform="rotate(62.0 133.3 756.1)" fill="#fbfdfb" stroke="#000" stroke-width="3.12" />
<ellipse cx="133.7" cy="755.9" rx="28.6" ry="17.2" transform="rotate(62.0 133.7 755.9)" fill="#000" stroke="#000" stroke-width="1.44" />
<ellipse cx="134.2" cy="755.6" rx="25.1" ry="15.0" transform="rotate(62.0 134.2 755.6)" fill="none" stroke="#fbfdfb" stroke-width="0.96" stroke-dasharray="1.2 2.5"/>
<ellipse cx="134.2" cy="755.6" rx="20.8" ry="12.5" transform="rotate(62.0 134.2 755.6)" fill="#fbfdfb" stroke="#000" stroke-width="1.92" />
<ellipse cx="131.6" cy="757.1" rx="17.9" ry="10.7" transform="rotate(62.0 131.6 757.1)" fill="#fbfdfb" stroke="#000" stroke-width="2.88" />
<polyline points="128.4,738.6 127.3,740.0 126.5,741.8 126.0,743.8 125.8,746.1 125.9,748.5 126.4,751.0 127.1,753.6 128.1,756.2 129.3,758.7 130.8,761.0 132.4,763.2 134.2,765.1 136.1,766.8 138.1,768.1 140.1,769.0" fill="none" stroke="#000" stroke-width="1.68" stroke-linecap="round" />
<line x1="88.7" y1="782.5" x2="130.4" y2="757.9" stroke="#fbfdfb" stroke-width="7.5"/>
<line x1="88.7" y1="782.5" x2="130.4" y2="757.9" stroke="#000" stroke-width="1.80" stroke-linecap="butt"/>
<polygon points="80.1,831.5 81.4,830.7 82.6,829.7 83.8,828.7 84.8,827.4 85.8,826.1 86.6,824.6 87.3,822.9 87.9,821.2 88.4,819.4 88.8,817.5 89.1,815.4 89.2,813.3 89.2,811.2 89.1,808.9 88.9,806.7 88.6,804.3 88.1,802.0 87.5,799.6 86.8,797.2 86.0,794.8 85.1,792.5 84.1,790.1 83.0,787.8 81.8,785.5 80.5,783.3 79.1,781.2 77.6,779.1 76.1,777.1 74.5,775.2 72.9,773.4 71.2,771.7 69.5,770.1 67.7,768.6 65.9,767.3 64.1,766.1 62.3,765.0 60.5,764.1 58.6,763.3 56.8,762.7 55.1,762.3 53.3,762.0 51.6,761.8 50.0,761.8 48.3,762.0 46.8,762.4 45.3,762.9 43.9,763.5 38.7,766.5 37.4,767.3 36.2,768.3 35.0,769.3 34.0,770.6 33.0,771.9 32.2,773.4 31.5,775.1 30.9,776.8 30.4,778.6 30.0,780.5 29.7,782.6 29.6,784.7 29.6,786.8 29.7,789.1 29.9,791.3 30.2,793.7 30.7,796.0 31.3,798.4 32.0,800.8 32.8,803.2 33.7,805.5 34.7,807.9 35.8,810.2 37.0,812.5 38.3,814.7 39.7,816.8 41.1,818.9 42.7,820.9 44.3,822.8 45.9,824.6 47.6,826.3 49.3,827.9 51.1,829.4 52.9,830.7 54.7,831.9 56.5,833.0 58.3,833.9 60.2,834.7 62.0,835.3 63.7,835.7 65.5,836.0 67.2,836.2 68.8,836.2 70.4,836.0 72.0,835.6 73.5,835.1 74.9,834.5" fill="#fbfdfb" stroke="#000" stroke-width="2.40" stroke-linejoin="round" />
<ellipse cx="56.8" cy="800.5" rx="38.5" ry="23.1" transform="rotate(62.0 56.8 800.5)" fill="#fbfdfb" stroke="#000" stroke-width="2.40" />
<ellipse cx="57.6" cy="800.0" rx="31.0" ry="18.6" transform="rotate(62.0 57.6 800.0)" fill="none" stroke="#000" stroke-width="2.40" />
<polyline points="42.9,775.2 42.0,776.7 41.3,778.3 40.7,780.1 40.2,782.0 40.0,784.1 39.8,786.3 39.9,788.5 40.1,790.8 40.5,793.2 41.0,795.6 41.7,798.1 42.5,800.5 43.5,802.9 44.6,805.3 45.8,807.6 47.2,809.8 48.6,812.0 50.2,814.1 51.8,816.0 53.5,817.8 55.3,819.4 57.1,820.9 58.9,822.2 60.8,823.3 62.6,824.2 64.5,824.9 66.3,825.4 68.1,825.7 69.8,825.8" fill="none" stroke="#000" stroke-width="1.44" stroke-linecap="round" />
<line x1="22.7" y1="820.0" x2="51.6" y2="803.7" stroke="#fbfdfb" stroke-width="7.5"/>
<line x1="22.7" y1="820.0" x2="51.6" y2="803.7" stroke="#000" stroke-width="1.80" stroke-linecap="butt"/>
<polyline points="176,708 176,531 1068,17 1068,193" fill="none" stroke="#000" stroke-width="1.8"/>
<line x1="49.7" y1="710.0" x2="49.7" y2="755.0" stroke="#000" stroke-width="1.56" stroke-linecap="butt"/>
<line x1="121.9" y1="668.5" x2="121.9" y2="708.0" stroke="#000" stroke-width="1.56" stroke-linecap="butt"/>
<line x1="209.5" y1="663.0" x2="209.5" y2="677.0" stroke="#000" stroke-width="1.56" stroke-linecap="butt"/>
<line x1="298.7" y1="549.0" x2="298.7" y2="563.0" stroke="#000" stroke-width="1.56" stroke-linecap="butt"/>
<line x1="459.0" y1="483.0" x2="459.0" y2="506.0" stroke="#000" stroke-width="1.56" stroke-linecap="butt"/>
<line x1="622.6" y1="230.0" x2="622.6" y2="273.0" stroke="#000" stroke-width="1.56" stroke-linecap="butt"/>
<line x1="698.0" y1="363.6" x2="698.0" y2="383.0" stroke="#000" stroke-width="1.56" stroke-linecap="butt"/>
<line x1="929.7" y1="184.0" x2="929.7" y2="198.0" stroke="#000" stroke-width="1.56" stroke-linecap="butt"/>
<line x1="1034.7" y1="181.0" x2="1034.7" y2="197.0" stroke="#000" stroke-width="1.56" stroke-linecap="butt"/>
<line x1="1104.7" y1="100.0" x2="1104.7" y2="152.4" stroke="#000" stroke-width="1.56" stroke-linecap="butt"/>
<text x="20.7" y="704.0" font-size="18" textLength="58.1" lengthAdjust="spacingAndGlyphs" fill="#000" stroke="#000" stroke-width="0.35">03.070</text>
<text x="93.9" y="662.0" font-size="18" textLength="57.7" lengthAdjust="spacingAndGlyphs" fill="#000" stroke="#000" stroke-width="0.35">03.060</text>
<text x="192.0" y="657.0" font-size="18" textLength="37.0" lengthAdjust="spacingAndGlyphs" fill="#000" stroke="#000" stroke-width="0.35">/050</text>
<text x="279.5" y="543.0" font-size="18" textLength="37.0" lengthAdjust="spacingAndGlyphs" fill="#000" stroke="#000" stroke-width="0.35">/040</text>
<text x="438.7" y="479.0" font-size="18" textLength="38.3" lengthAdjust="spacingAndGlyphs" fill="#000" stroke="#000" stroke-width="0.35">/030</text>
<text x="594.0" y="225.0" font-size="18" textLength="57.0" lengthAdjust="spacingAndGlyphs" fill="#000" stroke="#000" stroke-width="0.35">03.010</text>
<text x="679.0" y="357.7" font-size="18" textLength="38.0" lengthAdjust="spacingAndGlyphs" fill="#000" stroke="#000" stroke-width="0.35">/010</text>
<text x="910.8" y="178.5" font-size="18" textLength="38.7" lengthAdjust="spacingAndGlyphs" fill="#000" stroke="#000" stroke-width="0.35">/020</text>
<text x="1015.7" y="174.7" font-size="18" textLength="38.0" lengthAdjust="spacingAndGlyphs" fill="#000" stroke="#000" stroke-width="0.35">/060</text>
<text x="1076.0" y="95.0" font-size="18" textLength="58.0" lengthAdjust="spacingAndGlyphs" fill="#000" stroke="#000" stroke-width="0.35">03.110</text>
<g style="mix-blend-mode:multiply" fill="none" stroke="#aeaeae" stroke-linejoin="round">
<path d="M416.2,329 L416.2,247 Q416.2,242.7 420.5,242 A598.5,598.5 0 0 1 758,242 Q762.2,242.7 762.2,247 L762.2,329" stroke-width="3"/>
<path d="M425.3,322 L425.3,257 Q425.3,253 429,252.5 A555.7,555.7 0 0 1 749.5,252.5 Q753.5,253 753.5,257 L753.5,322" stroke-width="1.2"/>
<path d="M430.9,322 L747.7,322 A84.2,84.2 0 0 1 747.7,472 L430.9,472 A84.2,84.2 0 0 1 430.9,322 Z" stroke-width="3.2"/>
<path d="M750,472 Q720,575 589.3,627.2 Q458.6,575 428.6,472" stroke-width="3"/>
<path d="M740,474 Q712,570 588.5,615.6 Q465,570 437,474" stroke-width="1.2"/>
<text x="469.6" y="296.8" font-family="Liberation Sans" font-weight="bold" font-size="30.5" textLength="85.8" lengthAdjust="spacingAndGlyphs" stroke-width="1" fill="none">ТЕХНИКА</text>
<text x="624.1" y="297.7" font-family="Liberation Sans" font-weight="bold" font-size="30.5" textLength="98" lengthAdjust="spacingAndGlyphs" stroke-width="1" fill="none">ЗАПЧАСТИ</text>
<polygon points="601.5,286.5 601.4,287.6 601.3,288.6 598.3,288.9 598.1,289.6 597.7,290.4 597.3,291.1 599.0,293.5 598.3,294.3 597.5,295.0 596.6,295.6 594.4,293.7 593.6,294.1 592.9,294.3 592.1,294.5 591.6,297.4 590.5,297.5 589.4,297.4 588.4,297.3 588.1,294.3 587.4,294.1 586.6,293.7 585.9,293.3 583.5,295.0 582.7,294.3 582.0,293.5 581.4,292.6 583.3,290.4 582.9,289.6 582.7,288.9 582.5,288.1 579.6,287.6 579.5,286.5 579.6,285.4 579.7,284.4 582.7,284.1 582.9,283.4 583.3,282.6 583.7,281.9 582.0,279.5 582.7,278.7 583.5,278.0 584.4,277.4 586.6,279.3 587.4,278.9 588.1,278.7 588.9,278.5 589.4,275.6 590.5,275.5 591.6,275.6 592.6,275.7 592.9,278.7 593.6,278.9 594.4,279.3 595.1,279.7 597.5,278.0 598.3,278.7 599.0,279.5 599.6,280.4 597.7,282.6 598.1,283.4 598.3,284.1 598.5,284.9 601.4,285.4" stroke-width="1.1"/>
<circle cx="590.5" cy="286.5" r="4" stroke-width="1.1"/>
<path d="M421.1,366.1 C430,347 447,340.7 466.4,340.7 C498,340.7 520.9,362 520.9,392.9 C520.9,424 498,445.1 466.4,445.1 C441,445.1 424,432 418.8,414.4 L448.7,406.7 C451,418 459,422.9 467.9,422.9 C481,422.9 489.4,414 489.4,402.9 L458,402.9 L458,383.7 L489.7,383.7 C487,371 479,364.5 469,364.5 C459,364.5 452,370 449.5,377.6 Z" stroke-width="2"/>
<path d="M537.8,342.6 L636,342.6 L636,444.4 L604.4,444.4 L604.4,368 L569.3,368 L569.3,444.4 L537.8,444.4 Z" stroke-width="2"/>
<path d="M697.4,341.9 L726.1,341.9 L726.1,350.4 C755,354 771,372 771,396 C771,425 752,441 726.1,443 L726.1,448 L697.4,448 L697.4,443 C671,441 652.4,424 652.4,396 C652.4,370 671,354 697.4,350.4 Z" stroke-width="2"/>
<path d="M697.4,369.5 L697.4,412 C686,410 680.8,402 680.8,390.7 C680.8,379 686,371 697.4,369.5 Z" stroke-width="2"/>
<path d="M726.1,369.5 L726.1,412 C737,410 741,402 741,390.7 C741,379 737,371 726.1,369.5 Z" stroke-width="2"/>
<polygon points="568.8,615.0 568.8,511.0 573.9,503.0 589.3,497.0 604.7,503.0 609.8,511.0 609.8,615.0" stroke-width="1"/>
<line x1="586.8" y1="615.0" x2="586.8" y2="511.0" stroke-width="1"/>
<line x1="591.8" y1="615.0" x2="591.8" y2="511.0" stroke-width="1"/>
<polyline points="568.8,523.0 589.3,511.0 609.8,523.0" stroke-width="1"/>
<line x1="568.8" y1="607.0" x2="586.8" y2="613.0" stroke-width="1"/>
<line x1="591.8" y1="613.0" x2="609.8" y2="607.0" stroke-width="1"/>
<line x1="568.8" y1="594.0" x2="586.8" y2="600.0" stroke-width="1"/>
<line x1="591.8" y1="600.0" x2="609.8" y2="594.0" stroke-width="1"/>
<line x1="568.8" y1="581.0" x2="586.8" y2="587.0" stroke-width="1"/>
<line x1="591.8" y1="587.0" x2="609.8" y2="581.0" stroke-width="1"/>
<line x1="568.8" y1="568.0" x2="586.8" y2="574.0" stroke-width="1"/>
<line x1="591.8" y1="574.0" x2="609.8" y2="568.0" stroke-width="1"/>
<line x1="568.8" y1="555.0" x2="586.8" y2="561.0" stroke-width="1"/>
<line x1="591.8" y1="561.0" x2="609.8" y2="555.0" stroke-width="1"/>
<line x1="568.8" y1="542.0" x2="586.8" y2="548.0" stroke-width="1"/>
<line x1="591.8" y1="548.0" x2="609.8" y2="542.0" stroke-width="1"/>
<line x1="568.8" y1="529.0" x2="586.8" y2="535.0" stroke-width="1"/>
<line x1="591.8" y1="535.0" x2="609.8" y2="529.0" stroke-width="1"/>
<polygon points="553.7,609.3 523.4,547.9 522.6,539.4 528.0,530.0 538.7,531.4 545.0,537.2 575.3,598.7" stroke-width="1"/>
<line x1="562.3" y1="605.1" x2="532.0" y2="543.7" stroke-width="1"/>
<line x1="566.7" y1="602.9" x2="536.4" y2="541.4" stroke-width="1"/>
<polyline points="528.7,558.6 534.2,542.6 550.3,548.0" stroke-width="1"/>
<line x1="550.2" y1="602.1" x2="561.4" y2="603.3" stroke-width="1"/>
<line x1="565.9" y1="601.1" x2="571.7" y2="591.5" stroke-width="1"/>
<line x1="544.4" y1="590.5" x2="555.6" y2="591.7" stroke-width="1"/>
<line x1="560.1" y1="589.4" x2="566.0" y2="579.9" stroke-width="1"/>
<line x1="538.7" y1="578.8" x2="549.9" y2="580.0" stroke-width="1"/>
<line x1="554.4" y1="577.8" x2="560.2" y2="568.2" stroke-width="1"/>
<line x1="532.9" y1="567.2" x2="544.1" y2="568.3" stroke-width="1"/>
<line x1="548.6" y1="566.1" x2="554.5" y2="556.5" stroke-width="1"/>
<polygon points="603.3,598.7 633.6,537.2 639.9,531.4 650.6,530.0 656.0,539.4 655.2,547.9 624.9,609.3" stroke-width="1"/>
<line x1="611.9" y1="602.9" x2="642.2" y2="541.4" stroke-width="1"/>
<line x1="616.3" y1="605.1" x2="646.6" y2="543.7" stroke-width="1"/>
<polyline points="628.3,548.0 644.4,542.6 649.9,558.6" stroke-width="1"/>
<line x1="606.9" y1="591.5" x2="612.7" y2="601.1" stroke-width="1"/>
<line x1="617.2" y1="603.3" x2="628.4" y2="602.1" stroke-width="1"/>
<line x1="612.6" y1="579.9" x2="618.5" y2="589.4" stroke-width="1"/>
<line x1="623.0" y1="591.7" x2="634.2" y2="590.5" stroke-width="1"/>
<line x1="618.4" y1="568.2" x2="624.2" y2="577.8" stroke-width="1"/>
<line x1="628.7" y1="580.0" x2="639.9" y2="578.8" stroke-width="1"/>
<line x1="624.1" y1="556.5" x2="630.0" y2="566.1" stroke-width="1"/>
<line x1="634.5" y1="568.3" x2="645.7" y2="567.2" stroke-width="1"/>
</g>
</svg></body></html>
